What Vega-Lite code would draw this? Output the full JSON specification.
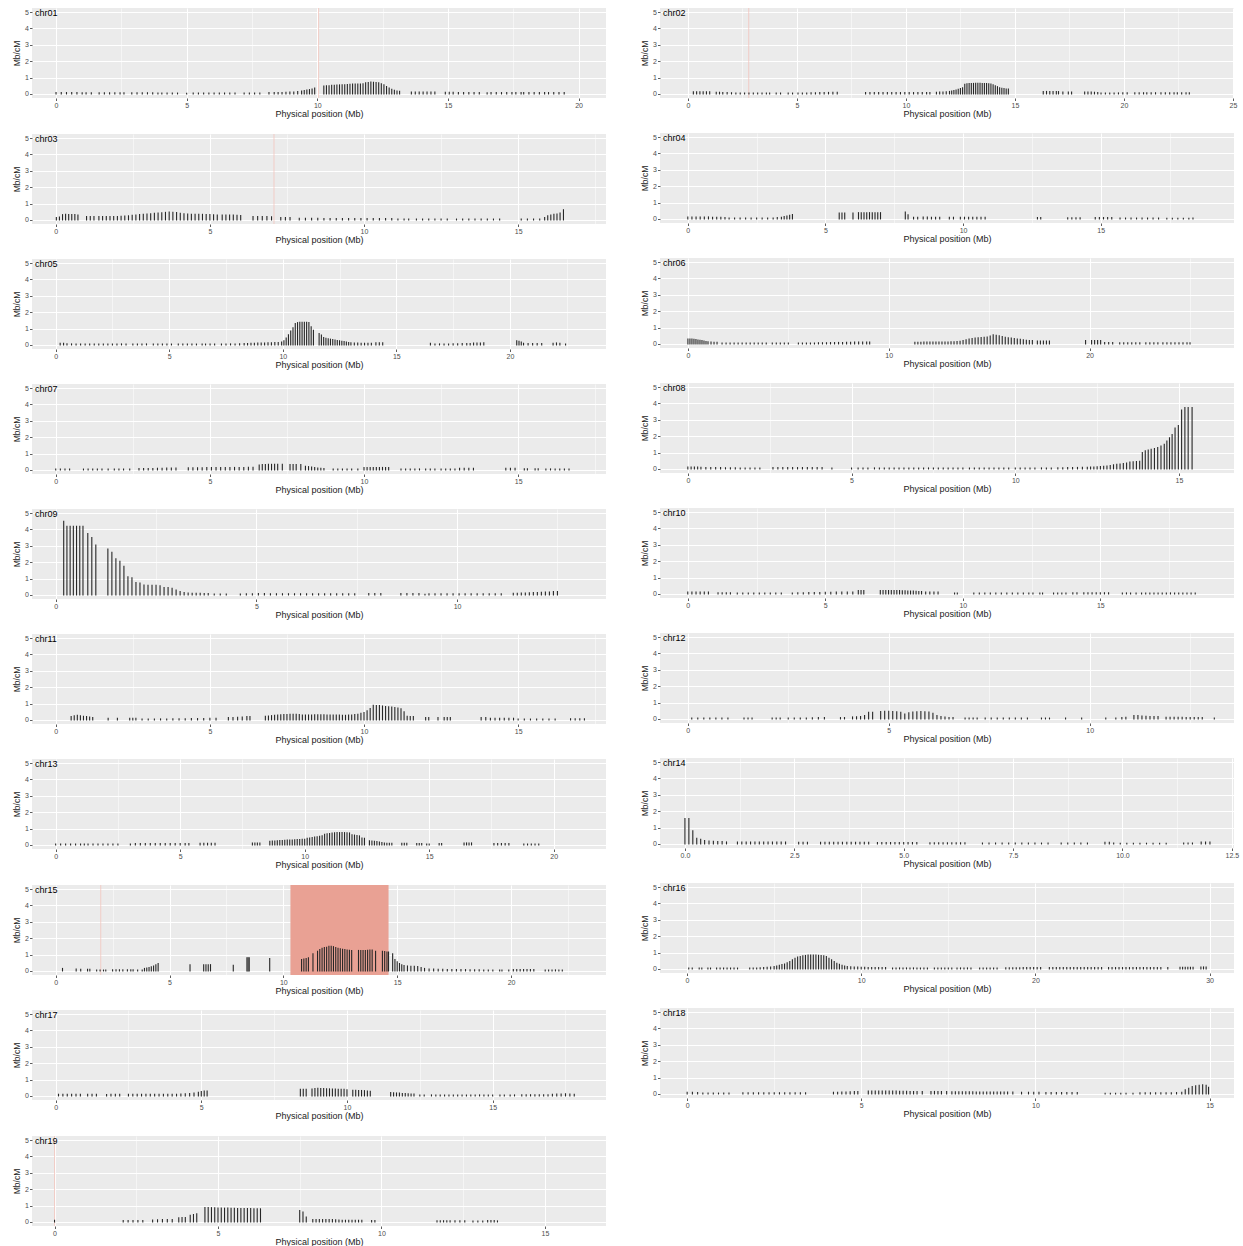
{
"$schema":"https://vega.github.io/schema/vega-lite/v6.json",
"background":"white",
"padding":{"left":12,"top":7,"right":2,"bottom":0},
"config":{"view":{"fill":"#EBEBEB","stroke":null},"font":"Liberation Sans",
"title":{"anchor":"start","frame":"group","offset":-10,"dx":3,"fontSize":9,"fontWeight":"normal","color":"#000000"},
"axis":{"domain":false,"labelOverlap":false,"labelFontSize":7,"labelColor":"#4D4D4D","labelPadding":1,"tickColor":"#333333","tickSize":2.5,"tickWidth":0.8,"gridColor":"#FFFFFF","titleFontSize":9,"titleFontWeight":"normal","titleColor":"#1a1a1a","titlePadding":1},
"axisY":{"titleFontSize":8.5,"titlePadding":3}},
"datasets":{
"c01":[{"p":0,"r":0.08},{"p":0.2,"r":0.08},{"p":0.4,"r":0.08},{"p":0.6,"r":0.08},{"p":0.8,"r":0.08},{"p":1.0,"r":0.07},{"p":1.15,"r":0.07},{"p":1.35,"r":0.07},{"p":1.65,"r":0.07},{"p":1.85,"r":0.07},{"p":2.05,"r":0.07},{"p":2.25,"r":0.07},{"p":2.45,"r":0.07},{"p":2.6,"r":0.07},{"p":2.9,"r":0.07},{"p":3.1,"r":0.07},{"p":3.3,"r":0.07},{"p":3.5,"r":0.07},{"p":3.7,"r":0.07},{"p":3.9,"r":0.06},{"p":4.05,"r":0.06},{"p":4.25,"r":0.05},{"p":4.45,"r":0.05},{"p":4.65,"r":0.05},{"p":5.0,"r":0.04},{"p":5.25,"r":0.05},{"p":5.45,"r":0.05},{"p":5.65,"r":0.05},{"p":5.85,"r":0.05},{"p":6.05,"r":0.05},{"p":6.25,"r":0.05},{"p":6.45,"r":0.05},{"p":6.65,"r":0.05},{"p":6.85,"r":0.05},{"p":7.2,"r":0.06},{"p":7.4,"r":0.06},{"p":7.6,"r":0.06},{"p":7.8,"r":0.06},{"p":8.15,"r":0.08},{"p":8.35,"r":0.08},{"p":8.5,"r":0.09},{"p":8.65,"r":0.09},{"p":8.8,"r":0.1},{"p":8.95,"r":0.11},{"p":9.1,"r":0.12},{"p":9.25,"r":0.14},{"p":9.4,"r":0.17},{"p":9.5,"r":0.2},{"p":9.6,"r":0.23},{"p":9.7,"r":0.26},{"p":9.8,"r":0.3},{"p":9.9,"r":0.36},{"p":10.25,"r":0.48},{"p":10.35,"r":0.5},{"p":10.45,"r":0.5},{"p":10.55,"r":0.52},{"p":10.65,"r":0.52},{"p":10.75,"r":0.54},{"p":10.85,"r":0.55},{"p":10.95,"r":0.55},{"p":11.05,"r":0.56},{"p":11.15,"r":0.57},{"p":11.25,"r":0.58},{"p":11.35,"r":0.6},{"p":11.45,"r":0.6},{"p":11.55,"r":0.6},{"p":11.65,"r":0.6},{"p":11.75,"r":0.62},{"p":11.85,"r":0.68},{"p":11.95,"r":0.7},{"p":12.05,"r":0.72},{"p":12.15,"r":0.71},{"p":12.25,"r":0.7},{"p":12.35,"r":0.68},{"p":12.45,"r":0.62},{"p":12.55,"r":0.55},{"p":12.65,"r":0.45},{"p":12.75,"r":0.36},{"p":12.85,"r":0.28},{"p":12.95,"r":0.22},{"p":13.05,"r":0.18},{"p":13.15,"r":0.16},{"p":13.6,"r":0.12},{"p":13.75,"r":0.12},{"p":13.9,"r":0.12},{"p":14.05,"r":0.12},{"p":14.2,"r":0.12},{"p":14.35,"r":0.12},{"p":14.5,"r":0.12},{"p":14.9,"r":0.1},{"p":15.05,"r":0.1},{"p":15.2,"r":0.1},{"p":15.4,"r":0.08},{"p":15.6,"r":0.08},{"p":15.8,"r":0.08},{"p":16.0,"r":0.08},{"p":16.2,"r":0.08},{"p":16.5,"r":0.07},{"p":16.65,"r":0.08},{"p":16.85,"r":0.08},{"p":17.05,"r":0.08},{"p":17.25,"r":0.08},{"p":17.45,"r":0.08},{"p":17.6,"r":0.08},{"p":17.8,"r":0.08},{"p":17.9,"r":0.08},{"p":18.1,"r":0.08},{"p":18.3,"r":0.08},{"p":18.5,"r":0.08},{"p":18.7,"r":0.08},{"p":18.85,"r":0.08},{"p":19.05,"r":0.08},{"p":19.25,"r":0.08},{"p":19.45,"r":0.08}],
"c02":[{"p":0.25,"r":0.13},{"p":0.4,"r":0.13},{"p":0.55,"r":0.13},{"p":0.7,"r":0.13},{"p":0.85,"r":0.13},{"p":1.0,"r":0.13},{"p":1.3,"r":0.1},{"p":1.45,"r":0.1},{"p":1.6,"r":0.09},{"p":1.8,"r":0.08},{"p":2.0,"r":0.07},{"p":2.2,"r":0.06},{"p":2.4,"r":0.06},{"p":2.6,"r":0.05},{"p":2.8,"r":0.05},{"p":3.0,"r":0.05},{"p":3.2,"r":0.05},{"p":3.4,"r":0.05},{"p":3.6,"r":0.05},{"p":3.75,"r":0.05},{"p":4.05,"r":0.05},{"p":4.25,"r":0.05},{"p":4.6,"r":0.05},{"p":4.8,"r":0.05},{"p":5.05,"r":0.06},{"p":5.25,"r":0.06},{"p":5.45,"r":0.06},{"p":5.65,"r":0.07},{"p":5.85,"r":0.07},{"p":6.05,"r":0.08},{"p":6.25,"r":0.08},{"p":6.45,"r":0.09},{"p":6.65,"r":0.1},{"p":6.85,"r":0.1},{"p":8.15,"r":0.08},{"p":8.35,"r":0.08},{"p":8.55,"r":0.08},{"p":8.75,"r":0.08},{"p":8.95,"r":0.08},{"p":9.15,"r":0.08},{"p":9.35,"r":0.08},{"p":9.55,"r":0.08},{"p":9.75,"r":0.08},{"p":9.95,"r":0.08},{"p":10.15,"r":0.08},{"p":10.35,"r":0.08},{"p":10.55,"r":0.08},{"p":10.75,"r":0.08},{"p":10.95,"r":0.08},{"p":11.1,"r":0.08},{"p":11.4,"r":0.1},{"p":11.55,"r":0.11},{"p":11.7,"r":0.12},{"p":11.85,"r":0.13},{"p":12.0,"r":0.15},{"p":12.1,"r":0.17},{"p":12.2,"r":0.2},{"p":12.3,"r":0.24},{"p":12.4,"r":0.28},{"p":12.5,"r":0.32},{"p":12.6,"r":0.38},{"p":12.7,"r":0.58},{"p":12.8,"r":0.62},{"p":12.9,"r":0.63},{"p":13.0,"r":0.64},{"p":13.1,"r":0.64},{"p":13.2,"r":0.65},{"p":13.3,"r":0.65},{"p":13.4,"r":0.65},{"p":13.5,"r":0.64},{"p":13.6,"r":0.64},{"p":13.7,"r":0.63},{"p":13.8,"r":0.62},{"p":13.9,"r":0.6},{"p":14.0,"r":0.56},{"p":14.1,"r":0.5},{"p":14.2,"r":0.44},{"p":14.3,"r":0.38},{"p":14.4,"r":0.34},{"p":14.5,"r":0.32},{"p":14.6,"r":0.3},{"p":14.7,"r":0.3},{"p":16.3,"r":0.15},{"p":16.45,"r":0.15},{"p":16.6,"r":0.15},{"p":16.75,"r":0.15},{"p":16.9,"r":0.15},{"p":17.0,"r":0.14},{"p":17.2,"r":0.12},{"p":17.45,"r":0.12},{"p":17.6,"r":0.12},{"p":18.2,"r":0.12},{"p":18.35,"r":0.12},{"p":18.5,"r":0.11},{"p":18.65,"r":0.1},{"p":18.8,"r":0.08},{"p":18.95,"r":0.06},{"p":19.15,"r":0.06},{"p":19.35,"r":0.06},{"p":19.55,"r":0.06},{"p":19.75,"r":0.06},{"p":19.95,"r":0.07},{"p":20.15,"r":0.07},{"p":20.5,"r":0.07},{"p":20.7,"r":0.07},{"p":20.9,"r":0.07},{"p":21.05,"r":0.07},{"p":21.25,"r":0.07},{"p":21.45,"r":0.07},{"p":21.7,"r":0.07},{"p":21.9,"r":0.07},{"p":22.1,"r":0.07},{"p":22.3,"r":0.07},{"p":22.45,"r":0.07},{"p":22.65,"r":0.07},{"p":22.85,"r":0.07},{"p":23.0,"r":0.07}],
"c03":[{"p":0.02,"r":0.15},{"p":0.12,"r":0.18},{"p":0.22,"r":0.32},{"p":0.32,"r":0.35},{"p":0.42,"r":0.33},{"p":0.52,"r":0.32},{"p":0.62,"r":0.32},{"p":0.72,"r":0.3},{"p":1.0,"r":0.2},{"p":1.12,"r":0.2},{"p":1.24,"r":0.2},{"p":1.4,"r":0.2},{"p":1.52,"r":0.2},{"p":1.64,"r":0.2},{"p":1.76,"r":0.2},{"p":1.88,"r":0.2},{"p":2.0,"r":0.21},{"p":2.12,"r":0.22},{"p":2.24,"r":0.23},{"p":2.36,"r":0.25},{"p":2.48,"r":0.28},{"p":2.6,"r":0.3},{"p":2.72,"r":0.32},{"p":2.84,"r":0.34},{"p":2.96,"r":0.36},{"p":3.08,"r":0.38},{"p":3.2,"r":0.4},{"p":3.32,"r":0.42},{"p":3.44,"r":0.44},{"p":3.56,"r":0.46},{"p":3.68,"r":0.48},{"p":3.8,"r":0.47},{"p":3.92,"r":0.45},{"p":4.04,"r":0.4},{"p":4.16,"r":0.38},{"p":4.28,"r":0.36},{"p":4.4,"r":0.35},{"p":4.52,"r":0.35},{"p":4.64,"r":0.34},{"p":4.76,"r":0.34},{"p":4.88,"r":0.33},{"p":5.0,"r":0.32},{"p":5.12,"r":0.31},{"p":5.24,"r":0.3},{"p":5.4,"r":0.3},{"p":5.52,"r":0.3},{"p":5.64,"r":0.3},{"p":5.76,"r":0.29},{"p":5.88,"r":0.28},{"p":6.0,"r":0.27},{"p":6.4,"r":0.2},{"p":6.55,"r":0.2},{"p":6.7,"r":0.2},{"p":6.85,"r":0.2},{"p":7.0,"r":0.19},{"p":7.3,"r":0.15},{"p":7.45,"r":0.15},{"p":7.6,"r":0.15},{"p":7.9,"r":0.1},{"p":8.1,"r":0.1},{"p":8.3,"r":0.1},{"p":8.5,"r":0.1},{"p":8.7,"r":0.09},{"p":8.9,"r":0.09},{"p":9.1,"r":0.08},{"p":9.3,"r":0.08},{"p":9.5,"r":0.08},{"p":9.7,"r":0.08},{"p":9.9,"r":0.08},{"p":10.1,"r":0.08},{"p":10.3,"r":0.08},{"p":10.5,"r":0.08},{"p":10.7,"r":0.08},{"p":10.9,"r":0.08},{"p":11.1,"r":0.06},{"p":11.3,"r":0.06},{"p":11.45,"r":0.06},{"p":11.7,"r":0.05},{"p":11.9,"r":0.05},{"p":12.1,"r":0.05},{"p":12.3,"r":0.05},{"p":12.5,"r":0.05},{"p":12.7,"r":0.05},{"p":13.0,"r":0.05},{"p":13.2,"r":0.05},{"p":13.4,"r":0.05},{"p":13.6,"r":0.05},{"p":13.8,"r":0.05},{"p":14.0,"r":0.05},{"p":14.2,"r":0.05},{"p":14.4,"r":0.05},{"p":15.1,"r":0.05},{"p":15.3,"r":0.05},{"p":15.5,"r":0.05},{"p":15.7,"r":0.06},{"p":15.86,"r":0.15},{"p":15.96,"r":0.25},{"p":16.06,"r":0.3},{"p":16.16,"r":0.35},{"p":16.26,"r":0.36},{"p":16.36,"r":0.42},{"p":16.47,"r":0.62}],
"c04":[{"p":0,"r":0.12},{"p":0.15,"r":0.12},{"p":0.3,"r":0.12},{"p":0.45,"r":0.12},{"p":0.6,"r":0.12},{"p":0.75,"r":0.12},{"p":0.9,"r":0.1},{"p":1.05,"r":0.1},{"p":1.2,"r":0.1},{"p":1.35,"r":0.08},{"p":1.5,"r":0.05},{"p":1.7,"r":0.05},{"p":1.9,"r":0.05},{"p":2.1,"r":0.05},{"p":2.3,"r":0.05},{"p":2.5,"r":0.05},{"p":2.7,"r":0.05},{"p":2.9,"r":0.05},{"p":3.1,"r":0.06},{"p":3.25,"r":0.08},{"p":3.4,"r":0.1},{"p":3.5,"r":0.14},{"p":3.6,"r":0.18},{"p":3.7,"r":0.22},{"p":3.8,"r":0.27},{"p":5.5,"r":0.36},{"p":5.6,"r":0.36},{"p":5.7,"r":0.36},{"p":6.0,"r":0.36},{"p":6.2,"r":0.38},{"p":6.3,"r":0.38},{"p":6.4,"r":0.38},{"p":6.5,"r":0.38},{"p":6.6,"r":0.38},{"p":6.7,"r":0.38},{"p":6.8,"r":0.38},{"p":6.9,"r":0.38},{"p":7.0,"r":0.38},{"p":7.9,"r":0.42},{"p":8.0,"r":0.25},{"p":8.2,"r":0.1},{"p":8.35,"r":0.1},{"p":8.55,"r":0.12},{"p":8.7,"r":0.12},{"p":8.85,"r":0.1},{"p":9.0,"r":0.1},{"p":9.15,"r":0.1},{"p":9.5,"r":0.1},{"p":9.65,"r":0.1},{"p":9.9,"r":0.1},{"p":10.05,"r":0.1},{"p":10.2,"r":0.1},{"p":10.35,"r":0.1},{"p":10.5,"r":0.1},{"p":10.65,"r":0.1},{"p":10.8,"r":0.1},{"p":12.7,"r":0.08},{"p":12.82,"r":0.08},{"p":13.8,"r":0.07},{"p":13.95,"r":0.07},{"p":14.1,"r":0.07},{"p":14.25,"r":0.07},{"p":14.8,"r":0.08},{"p":14.95,"r":0.08},{"p":15.1,"r":0.08},{"p":15.25,"r":0.08},{"p":15.4,"r":0.08},{"p":15.7,"r":0.05},{"p":15.9,"r":0.05},{"p":16.1,"r":0.05},{"p":16.3,"r":0.05},{"p":16.5,"r":0.05},{"p":16.7,"r":0.05},{"p":16.9,"r":0.05},{"p":17.1,"r":0.05},{"p":17.4,"r":0.04},{"p":17.6,"r":0.04},{"p":17.8,"r":0.04},{"p":18.0,"r":0.04},{"p":18.2,"r":0.04},{"p":18.35,"r":0.05}],
"c05":[{"p":0.2,"r":0.1},{"p":0.35,"r":0.1},{"p":0.5,"r":0.07},{"p":0.7,"r":0.06},{"p":0.9,"r":0.06},{"p":1.1,"r":0.06},{"p":1.3,"r":0.06},{"p":1.5,"r":0.06},{"p":1.7,"r":0.06},{"p":1.9,"r":0.06},{"p":2.1,"r":0.06},{"p":2.3,"r":0.06},{"p":2.5,"r":0.06},{"p":2.7,"r":0.06},{"p":2.9,"r":0.06},{"p":3.1,"r":0.06},{"p":3.4,"r":0.06},{"p":3.6,"r":0.06},{"p":3.8,"r":0.06},{"p":4.0,"r":0.06},{"p":4.3,"r":0.05},{"p":4.5,"r":0.05},{"p":4.7,"r":0.05},{"p":4.9,"r":0.05},{"p":5.1,"r":0.05},{"p":5.4,"r":0.05},{"p":5.6,"r":0.05},{"p":5.8,"r":0.05},{"p":6.0,"r":0.05},{"p":6.2,"r":0.05},{"p":6.45,"r":0.05},{"p":6.6,"r":0.05},{"p":6.8,"r":0.05},{"p":7.0,"r":0.05},{"p":7.3,"r":0.05},{"p":7.5,"r":0.05},{"p":7.7,"r":0.06},{"p":7.9,"r":0.06},{"p":8.1,"r":0.07},{"p":8.3,"r":0.08},{"p":8.45,"r":0.09},{"p":8.6,"r":0.1},{"p":8.75,"r":0.1},{"p":8.9,"r":0.11},{"p":9.05,"r":0.12},{"p":9.2,"r":0.12},{"p":9.35,"r":0.13},{"p":9.5,"r":0.13},{"p":9.65,"r":0.14},{"p":9.8,"r":0.15},{"p":9.95,"r":0.18},{"p":10.05,"r":0.25},{"p":10.15,"r":0.42},{"p":10.25,"r":0.62},{"p":10.35,"r":0.85},{"p":10.45,"r":1.05},{"p":10.55,"r":1.3},{"p":10.65,"r":1.36},{"p":10.75,"r":1.38},{"p":10.85,"r":1.38},{"p":10.95,"r":1.38},{"p":11.05,"r":1.38},{"p":11.15,"r":1.36},{"p":11.25,"r":1.1},{"p":11.35,"r":0.9},{"p":11.6,"r":0.7},{"p":11.7,"r":0.6},{"p":11.8,"r":0.45},{"p":11.9,"r":0.4},{"p":12.0,"r":0.38},{"p":12.1,"r":0.35},{"p":12.2,"r":0.33},{"p":12.3,"r":0.3},{"p":12.4,"r":0.27},{"p":12.5,"r":0.25},{"p":12.6,"r":0.22},{"p":12.7,"r":0.2},{"p":12.8,"r":0.17},{"p":12.9,"r":0.15},{"p":13.0,"r":0.13},{"p":13.15,"r":0.12},{"p":13.3,"r":0.12},{"p":13.45,"r":0.1},{"p":13.6,"r":0.1},{"p":13.75,"r":0.1},{"p":13.9,"r":0.1},{"p":14.1,"r":0.13},{"p":14.25,"r":0.13},{"p":14.4,"r":0.13},{"p":16.5,"r":0.1},{"p":16.7,"r":0.06},{"p":16.9,"r":0.06},{"p":17.1,"r":0.06},{"p":17.3,"r":0.06},{"p":17.5,"r":0.07},{"p":17.7,"r":0.07},{"p":17.9,"r":0.08},{"p":18.1,"r":0.08},{"p":18.25,"r":0.09},{"p":18.4,"r":0.12},{"p":18.55,"r":0.12},{"p":18.7,"r":0.12},{"p":18.85,"r":0.13},{"p":20.3,"r":0.25},{"p":20.4,"r":0.22},{"p":20.5,"r":0.18},{"p":20.6,"r":0.1},{"p":20.8,"r":0.08},{"p":21.0,"r":0.08},{"p":21.2,"r":0.08},{"p":21.4,"r":0.08},{"p":21.9,"r":0.1},{"p":22.05,"r":0.12},{"p":22.2,"r":0.1},{"p":22.45,"r":0.06}],
"c06":[{"p":0,"r":0.3},{"p":0.1,"r":0.3},{"p":0.2,"r":0.3},{"p":0.3,"r":0.28},{"p":0.4,"r":0.26},{"p":0.5,"r":0.24},{"p":0.6,"r":0.22},{"p":0.7,"r":0.2},{"p":0.8,"r":0.17},{"p":0.9,"r":0.15},{"p":1.0,"r":0.13},{"p":1.15,"r":0.11},{"p":1.3,"r":0.1},{"p":1.45,"r":0.1},{"p":1.7,"r":0.06},{"p":1.9,"r":0.06},{"p":2.1,"r":0.06},{"p":2.3,"r":0.06},{"p":2.5,"r":0.06},{"p":2.7,"r":0.06},{"p":2.9,"r":0.06},{"p":3.1,"r":0.06},{"p":3.3,"r":0.06},{"p":3.5,"r":0.06},{"p":3.7,"r":0.06},{"p":3.9,"r":0.06},{"p":4.2,"r":0.06},{"p":4.4,"r":0.06},{"p":4.6,"r":0.06},{"p":4.8,"r":0.06},{"p":5.0,"r":0.06},{"p":5.5,"r":0.06},{"p":5.7,"r":0.06},{"p":5.9,"r":0.06},{"p":6.1,"r":0.06},{"p":6.3,"r":0.06},{"p":6.5,"r":0.07},{"p":6.7,"r":0.07},{"p":6.9,"r":0.07},{"p":7.1,"r":0.08},{"p":7.3,"r":0.08},{"p":7.5,"r":0.09},{"p":7.7,"r":0.09},{"p":7.9,"r":0.1},{"p":8.1,"r":0.1},{"p":8.3,"r":0.11},{"p":8.5,"r":0.12},{"p":8.7,"r":0.12},{"p":8.9,"r":0.12},{"p":9.05,"r":0.12},{"p":11.3,"r":0.1},{"p":11.45,"r":0.1},{"p":11.6,"r":0.1},{"p":11.75,"r":0.11},{"p":11.9,"r":0.11},{"p":12.05,"r":0.11},{"p":12.2,"r":0.11},{"p":12.35,"r":0.12},{"p":12.5,"r":0.12},{"p":12.65,"r":0.12},{"p":12.8,"r":0.12},{"p":12.95,"r":0.12},{"p":13.1,"r":0.13},{"p":13.25,"r":0.13},{"p":13.4,"r":0.14},{"p":13.55,"r":0.16},{"p":13.7,"r":0.2},{"p":13.85,"r":0.25},{"p":14.0,"r":0.3},{"p":14.15,"r":0.33},{"p":14.3,"r":0.36},{"p":14.45,"r":0.38},{"p":14.6,"r":0.39},{"p":14.75,"r":0.4},{"p":14.9,"r":0.42},{"p":15.05,"r":0.48},{"p":15.2,"r":0.55},{"p":15.35,"r":0.52},{"p":15.5,"r":0.5},{"p":15.65,"r":0.45},{"p":15.8,"r":0.4},{"p":15.95,"r":0.38},{"p":16.1,"r":0.36},{"p":16.25,"r":0.33},{"p":16.4,"r":0.3},{"p":16.55,"r":0.28},{"p":16.7,"r":0.25},{"p":16.85,"r":0.22},{"p":17.0,"r":0.2},{"p":17.15,"r":0.2},{"p":17.4,"r":0.18},{"p":17.55,"r":0.18},{"p":17.7,"r":0.18},{"p":17.85,"r":0.18},{"p":18.0,"r":0.18},{"p":19.8,"r":0.2},{"p":20.1,"r":0.2},{"p":20.25,"r":0.2},{"p":20.4,"r":0.2},{"p":20.55,"r":0.2},{"p":20.75,"r":0.08},{"p":20.95,"r":0.08},{"p":21.15,"r":0.08},{"p":21.5,"r":0.07},{"p":21.7,"r":0.07},{"p":21.9,"r":0.07},{"p":22.1,"r":0.07},{"p":22.3,"r":0.07},{"p":22.5,"r":0.07},{"p":22.8,"r":0.07},{"p":23.0,"r":0.07},{"p":23.2,"r":0.07},{"p":23.4,"r":0.07},{"p":23.65,"r":0.07},{"p":23.85,"r":0.07},{"p":24.05,"r":0.07},{"p":24.25,"r":0.07},{"p":24.45,"r":0.07},{"p":24.65,"r":0.07},{"p":24.85,"r":0.07},{"p":25.0,"r":0.07}],
"c07":[{"p":0,"r":0.05},{"p":0.15,"r":0.05},{"p":0.3,"r":0.05},{"p":0.45,"r":0.05},{"p":0.9,"r":0.05},{"p":1.05,"r":0.05},{"p":1.2,"r":0.05},{"p":1.35,"r":0.05},{"p":1.5,"r":0.05},{"p":1.7,"r":0.05},{"p":1.9,"r":0.05},{"p":2.05,"r":0.05},{"p":2.2,"r":0.05},{"p":2.4,"r":0.05},{"p":2.7,"r":0.08},{"p":2.85,"r":0.08},{"p":3.0,"r":0.09},{"p":3.15,"r":0.09},{"p":3.3,"r":0.1},{"p":3.45,"r":0.1},{"p":3.6,"r":0.12},{"p":3.75,"r":0.12},{"p":3.9,"r":0.12},{"p":4.3,"r":0.13},{"p":4.45,"r":0.13},{"p":4.6,"r":0.13},{"p":4.75,"r":0.13},{"p":4.9,"r":0.14},{"p":5.05,"r":0.14},{"p":5.2,"r":0.14},{"p":5.35,"r":0.14},{"p":5.5,"r":0.14},{"p":5.65,"r":0.14},{"p":5.8,"r":0.15},{"p":5.95,"r":0.15},{"p":6.1,"r":0.15},{"p":6.25,"r":0.16},{"p":6.4,"r":0.16},{"p":6.6,"r":0.3},{"p":6.7,"r":0.32},{"p":6.8,"r":0.33},{"p":6.9,"r":0.34},{"p":7.0,"r":0.34},{"p":7.1,"r":0.35},{"p":7.2,"r":0.34},{"p":7.35,"r":0.34},{"p":7.6,"r":0.33},{"p":7.7,"r":0.33},{"p":7.8,"r":0.33},{"p":7.95,"r":0.32},{"p":8.1,"r":0.22},{"p":8.2,"r":0.2},{"p":8.3,"r":0.18},{"p":8.4,"r":0.15},{"p":8.5,"r":0.12},{"p":8.6,"r":0.1},{"p":8.7,"r":0.08},{"p":9.0,"r":0.05},{"p":9.15,"r":0.05},{"p":9.3,"r":0.05},{"p":9.45,"r":0.05},{"p":9.6,"r":0.05},{"p":9.8,"r":0.05},{"p":10.0,"r":0.15},{"p":10.1,"r":0.15},{"p":10.2,"r":0.15},{"p":10.3,"r":0.15},{"p":10.4,"r":0.15},{"p":10.5,"r":0.15},{"p":10.6,"r":0.15},{"p":10.7,"r":0.15},{"p":10.8,"r":0.15},{"p":11.2,"r":0.06},{"p":11.35,"r":0.06},{"p":11.5,"r":0.06},{"p":11.65,"r":0.06},{"p":11.8,"r":0.06},{"p":12.0,"r":0.06},{"p":12.15,"r":0.06},{"p":12.3,"r":0.06},{"p":12.5,"r":0.06},{"p":12.65,"r":0.06},{"p":12.8,"r":0.06},{"p":12.95,"r":0.06},{"p":13.1,"r":0.1},{"p":13.25,"r":0.1},{"p":13.4,"r":0.1},{"p":13.55,"r":0.1},{"p":14.6,"r":0.1},{"p":14.75,"r":0.1},{"p":14.9,"r":0.1},{"p":15.2,"r":0.07},{"p":15.3,"r":0.07},{"p":15.55,"r":0.07},{"p":15.65,"r":0.07},{"p":15.9,"r":0.06},{"p":16.05,"r":0.06},{"p":16.2,"r":0.06},{"p":16.35,"r":0.06},{"p":16.5,"r":0.06},{"p":16.65,"r":0.06}],
"c08":[{"p":0,"r":0.12},{"p":0.1,"r":0.12},{"p":0.2,"r":0.12},{"p":0.3,"r":0.11},{"p":0.4,"r":0.1},{"p":0.55,"r":0.09},{"p":0.7,"r":0.08},{"p":0.85,"r":0.08},{"p":1.0,"r":0.08},{"p":1.15,"r":0.07},{"p":1.3,"r":0.07},{"p":1.45,"r":0.07},{"p":1.6,"r":0.06},{"p":1.75,"r":0.06},{"p":1.9,"r":0.06},{"p":2.05,"r":0.05},{"p":2.2,"r":0.05},{"p":2.6,"r":0.08},{"p":2.75,"r":0.08},{"p":2.9,"r":0.08},{"p":3.05,"r":0.08},{"p":3.2,"r":0.08},{"p":3.35,"r":0.08},{"p":3.5,"r":0.08},{"p":3.65,"r":0.08},{"p":3.8,"r":0.08},{"p":3.95,"r":0.08},{"p":4.1,"r":0.08},{"p":4.4,"r":0.06},{"p":5.0,"r":0.05},{"p":5.2,"r":0.06},{"p":5.35,"r":0.06},{"p":5.5,"r":0.06},{"p":5.7,"r":0.06},{"p":5.85,"r":0.06},{"p":6.0,"r":0.06},{"p":6.15,"r":0.06},{"p":6.3,"r":0.06},{"p":6.45,"r":0.06},{"p":6.6,"r":0.06},{"p":6.75,"r":0.06},{"p":6.9,"r":0.06},{"p":7.05,"r":0.06},{"p":7.2,"r":0.06},{"p":7.35,"r":0.06},{"p":7.5,"r":0.06},{"p":7.65,"r":0.06},{"p":7.8,"r":0.06},{"p":7.95,"r":0.06},{"p":8.1,"r":0.06},{"p":8.25,"r":0.06},{"p":8.4,"r":0.06},{"p":8.6,"r":0.06},{"p":8.75,"r":0.06},{"p":8.9,"r":0.06},{"p":9.05,"r":0.06},{"p":9.2,"r":0.06},{"p":9.35,"r":0.06},{"p":9.5,"r":0.06},{"p":9.65,"r":0.06},{"p":9.8,"r":0.06},{"p":10.0,"r":0.05},{"p":10.15,"r":0.05},{"p":10.3,"r":0.05},{"p":10.45,"r":0.05},{"p":10.6,"r":0.05},{"p":10.8,"r":0.06},{"p":10.95,"r":0.06},{"p":11.1,"r":0.06},{"p":11.3,"r":0.07},{"p":11.45,"r":0.07},{"p":11.6,"r":0.08},{"p":11.75,"r":0.08},{"p":11.9,"r":0.09},{"p":12.05,"r":0.1},{"p":12.2,"r":0.1},{"p":12.3,"r":0.11},{"p":12.4,"r":0.12},{"p":12.5,"r":0.13},{"p":12.6,"r":0.14},{"p":12.7,"r":0.16},{"p":12.8,"r":0.18},{"p":12.9,"r":0.2},{"p":13.0,"r":0.25},{"p":13.1,"r":0.28},{"p":13.2,"r":0.3},{"p":13.3,"r":0.33},{"p":13.4,"r":0.36},{"p":13.5,"r":0.42},{"p":13.6,"r":0.44},{"p":13.7,"r":0.45},{"p":13.8,"r":0.46},{"p":13.88,"r":1.0},{"p":13.97,"r":1.1},{"p":14.06,"r":1.15},{"p":14.15,"r":1.2},{"p":14.25,"r":1.25},{"p":14.35,"r":1.3},{"p":14.45,"r":1.4},{"p":14.55,"r":1.5},{"p":14.63,"r":1.7},{"p":14.71,"r":1.9},{"p":14.79,"r":2.1},{"p":14.88,"r":2.5},{"p":14.98,"r":2.65},{"p":15.08,"r":3.6},{"p":15.18,"r":3.75},{"p":15.28,"r":3.75},{"p":15.4,"r":3.75}],
"c09":[{"p":0.2,"r":4.5},{"p":0.28,"r":4.2},{"p":0.36,"r":4.2},{"p":0.44,"r":4.2},{"p":0.52,"r":4.2},{"p":0.6,"r":4.2},{"p":0.68,"r":4.2},{"p":0.8,"r":3.75},{"p":0.9,"r":3.5},{"p":1.0,"r":3.05},{"p":1.3,"r":2.8},{"p":1.4,"r":2.6},{"p":1.5,"r":2.2},{"p":1.6,"r":2.05},{"p":1.7,"r":1.75},{"p":1.8,"r":1.1},{"p":1.9,"r":1.05},{"p":2.0,"r":0.75},{"p":2.1,"r":0.72},{"p":2.2,"r":0.6},{"p":2.3,"r":0.58},{"p":2.4,"r":0.58},{"p":2.5,"r":0.58},{"p":2.6,"r":0.56},{"p":2.7,"r":0.45},{"p":2.8,"r":0.45},{"p":2.9,"r":0.4},{"p":3.0,"r":0.3},{"p":3.1,"r":0.2},{"p":3.2,"r":0.15},{"p":3.3,"r":0.12},{"p":3.4,"r":0.1},{"p":3.5,"r":0.1},{"p":3.6,"r":0.1},{"p":3.7,"r":0.09},{"p":3.8,"r":0.08},{"p":3.95,"r":0.06},{"p":4.1,"r":0.06},{"p":4.25,"r":0.06},{"p":4.6,"r":0.06},{"p":4.75,"r":0.07},{"p":4.9,"r":0.07},{"p":5.05,"r":0.08},{"p":5.2,"r":0.08},{"p":5.35,"r":0.07},{"p":5.5,"r":0.07},{"p":5.65,"r":0.07},{"p":5.8,"r":0.07},{"p":5.95,"r":0.07},{"p":6.1,"r":0.07},{"p":6.25,"r":0.07},{"p":6.4,"r":0.07},{"p":6.55,"r":0.07},{"p":6.7,"r":0.07},{"p":6.85,"r":0.07},{"p":7.0,"r":0.07},{"p":7.15,"r":0.07},{"p":7.3,"r":0.07},{"p":7.45,"r":0.07},{"p":7.8,"r":0.08},{"p":7.95,"r":0.08},{"p":8.1,"r":0.08},{"p":8.6,"r":0.08},{"p":8.75,"r":0.08},{"p":8.9,"r":0.08},{"p":9.05,"r":0.08},{"p":9.2,"r":0.03},{"p":9.3,"r":0.07},{"p":9.45,"r":0.07},{"p":9.6,"r":0.07},{"p":9.75,"r":0.07},{"p":9.9,"r":0.07},{"p":10.05,"r":0.07},{"p":10.2,"r":0.07},{"p":10.35,"r":0.07},{"p":10.5,"r":0.07},{"p":10.65,"r":0.07},{"p":10.8,"r":0.07},{"p":10.95,"r":0.07},{"p":11.1,"r":0.07},{"p":11.4,"r":0.1},{"p":11.5,"r":0.1},{"p":11.6,"r":0.11},{"p":11.7,"r":0.12},{"p":11.8,"r":0.13},{"p":11.9,"r":0.14},{"p":12.0,"r":0.15},{"p":12.1,"r":0.16},{"p":12.2,"r":0.17},{"p":12.3,"r":0.18},{"p":12.4,"r":0.2},{"p":12.5,"r":0.2}],
"c10":[{"p":0,"r":0.12},{"p":0.15,"r":0.12},{"p":0.3,"r":0.12},{"p":0.45,"r":0.12},{"p":0.6,"r":0.12},{"p":0.75,"r":0.12},{"p":1.1,"r":0.07},{"p":1.25,"r":0.07},{"p":1.4,"r":0.07},{"p":1.55,"r":0.07},{"p":1.8,"r":0.05},{"p":2.0,"r":0.05},{"p":2.2,"r":0.05},{"p":2.4,"r":0.05},{"p":2.6,"r":0.05},{"p":2.8,"r":0.05},{"p":3.0,"r":0.05},{"p":3.2,"r":0.05},{"p":3.4,"r":0.05},{"p":3.8,"r":0.06},{"p":4.0,"r":0.07},{"p":4.2,"r":0.07},{"p":4.4,"r":0.08},{"p":4.6,"r":0.08},{"p":4.8,"r":0.09},{"p":5.0,"r":0.1},{"p":5.2,"r":0.1},{"p":5.4,"r":0.11},{"p":5.6,"r":0.11},{"p":5.8,"r":0.12},{"p":6.0,"r":0.12},{"p":6.2,"r":0.2},{"p":6.3,"r":0.2},{"p":6.4,"r":0.2},{"p":7.0,"r":0.2},{"p":7.1,"r":0.2},{"p":7.2,"r":0.2},{"p":7.3,"r":0.21},{"p":7.4,"r":0.21},{"p":7.5,"r":0.2},{"p":7.6,"r":0.2},{"p":7.7,"r":0.2},{"p":7.8,"r":0.19},{"p":7.9,"r":0.19},{"p":8.0,"r":0.18},{"p":8.1,"r":0.18},{"p":8.2,"r":0.17},{"p":8.3,"r":0.16},{"p":8.4,"r":0.15},{"p":8.5,"r":0.14},{"p":8.65,"r":0.12},{"p":8.8,"r":0.12},{"p":8.95,"r":0.12},{"p":9.1,"r":0.12},{"p":9.7,"r":0.06},{"p":9.8,"r":0.06},{"p":10.4,"r":0.06},{"p":10.6,"r":0.06},{"p":10.8,"r":0.06},{"p":11.0,"r":0.06},{"p":11.2,"r":0.06},{"p":11.4,"r":0.06},{"p":11.6,"r":0.06},{"p":11.8,"r":0.06},{"p":12.0,"r":0.06},{"p":12.2,"r":0.06},{"p":12.4,"r":0.06},{"p":12.55,"r":0.06},{"p":12.8,"r":0.06},{"p":12.9,"r":0.06},{"p":13.3,"r":0.06},{"p":13.45,"r":0.06},{"p":13.6,"r":0.06},{"p":13.75,"r":0.06},{"p":14.0,"r":0.07},{"p":14.15,"r":0.07},{"p":14.4,"r":0.07},{"p":14.55,"r":0.07},{"p":14.7,"r":0.07},{"p":14.85,"r":0.07},{"p":15.0,"r":0.07},{"p":15.15,"r":0.07},{"p":15.3,"r":0.07},{"p":15.8,"r":0.06},{"p":15.95,"r":0.06},{"p":16.1,"r":0.06},{"p":16.3,"r":0.06},{"p":16.5,"r":0.06},{"p":16.65,"r":0.06},{"p":16.8,"r":0.06},{"p":16.95,"r":0.06},{"p":17.1,"r":0.06},{"p":17.25,"r":0.06},{"p":17.4,"r":0.06},{"p":17.55,"r":0.06},{"p":17.7,"r":0.06},{"p":17.85,"r":0.06},{"p":18.0,"r":0.06},{"p":18.15,"r":0.06},{"p":18.3,"r":0.06},{"p":18.45,"r":0.06}],
"c11":[{"p":0.5,"r":0.2},{"p":0.6,"r":0.25},{"p":0.7,"r":0.28},{"p":0.8,"r":0.25},{"p":0.9,"r":0.22},{"p":1.0,"r":0.2},{"p":1.1,"r":0.18},{"p":1.2,"r":0.15},{"p":1.7,"r":0.1},{"p":2.0,"r":0.1},{"p":2.4,"r":0.1},{"p":2.5,"r":0.1},{"p":2.6,"r":0.1},{"p":2.8,"r":0.06},{"p":3.0,"r":0.06},{"p":3.2,"r":0.06},{"p":3.4,"r":0.06},{"p":3.6,"r":0.06},{"p":3.8,"r":0.07},{"p":4.0,"r":0.07},{"p":4.2,"r":0.07},{"p":4.4,"r":0.08},{"p":4.6,"r":0.08},{"p":4.8,"r":0.09},{"p":5.0,"r":0.1},{"p":5.2,"r":0.1},{"p":5.6,"r":0.15},{"p":5.75,"r":0.15},{"p":5.9,"r":0.16},{"p":6.05,"r":0.18},{"p":6.2,"r":0.2},{"p":6.3,"r":0.2},{"p":6.8,"r":0.22},{"p":6.9,"r":0.24},{"p":7.0,"r":0.26},{"p":7.1,"r":0.28},{"p":7.2,"r":0.3},{"p":7.3,"r":0.31},{"p":7.4,"r":0.32},{"p":7.5,"r":0.33},{"p":7.6,"r":0.34},{"p":7.7,"r":0.35},{"p":7.8,"r":0.34},{"p":7.9,"r":0.32},{"p":8.0,"r":0.3},{"p":8.1,"r":0.3},{"p":8.2,"r":0.3},{"p":8.3,"r":0.3},{"p":8.4,"r":0.31},{"p":8.5,"r":0.31},{"p":8.6,"r":0.31},{"p":8.7,"r":0.31},{"p":8.8,"r":0.3},{"p":8.9,"r":0.3},{"p":9.0,"r":0.3},{"p":9.1,"r":0.3},{"p":9.2,"r":0.29},{"p":9.3,"r":0.28},{"p":9.4,"r":0.28},{"p":9.5,"r":0.29},{"p":9.6,"r":0.3},{"p":9.7,"r":0.32},{"p":9.8,"r":0.35},{"p":9.9,"r":0.4},{"p":10.0,"r":0.45},{"p":10.1,"r":0.55},{"p":10.2,"r":0.7},{"p":10.3,"r":0.9},{"p":10.4,"r":0.88},{"p":10.5,"r":0.87},{"p":10.6,"r":0.85},{"p":10.7,"r":0.82},{"p":10.8,"r":0.8},{"p":10.9,"r":0.78},{"p":11.0,"r":0.75},{"p":11.1,"r":0.72},{"p":11.2,"r":0.68},{"p":11.3,"r":0.5},{"p":11.4,"r":0.22},{"p":11.5,"r":0.2},{"p":11.6,"r":0.2},{"p":12.0,"r":0.15},{"p":12.1,"r":0.15},{"p":12.4,"r":0.15},{"p":12.6,"r":0.15},{"p":12.7,"r":0.15},{"p":12.8,"r":0.15},{"p":13.8,"r":0.15},{"p":13.95,"r":0.15},{"p":14.1,"r":0.1},{"p":14.25,"r":0.1},{"p":14.4,"r":0.1},{"p":14.55,"r":0.1},{"p":14.7,"r":0.1},{"p":14.85,"r":0.1},{"p":15.0,"r":0.05},{"p":15.2,"r":0.05},{"p":15.4,"r":0.05},{"p":15.6,"r":0.05},{"p":15.8,"r":0.05},{"p":16.0,"r":0.05},{"p":16.2,"r":0.05},{"p":16.7,"r":0.07},{"p":16.85,"r":0.07},{"p":17.0,"r":0.07},{"p":17.15,"r":0.07}],
"c12":[{"p":0.1,"r":0.05},{"p":0.25,"r":0.05},{"p":0.4,"r":0.05},{"p":0.55,"r":0.05},{"p":0.7,"r":0.05},{"p":0.85,"r":0.05},{"p":1.0,"r":0.05},{"p":1.4,"r":0.05},{"p":1.5,"r":0.05},{"p":1.6,"r":0.05},{"p":2.1,"r":0.05},{"p":2.2,"r":0.05},{"p":2.3,"r":0.05},{"p":2.5,"r":0.05},{"p":2.65,"r":0.05},{"p":2.8,"r":0.06},{"p":2.95,"r":0.06},{"p":3.1,"r":0.07},{"p":3.25,"r":0.08},{"p":3.4,"r":0.08},{"p":3.8,"r":0.08},{"p":3.9,"r":0.08},{"p":4.1,"r":0.12},{"p":4.2,"r":0.13},{"p":4.3,"r":0.15},{"p":4.4,"r":0.2},{"p":4.5,"r":0.4},{"p":4.6,"r":0.4},{"p":4.8,"r":0.45},{"p":4.9,"r":0.46},{"p":5.0,"r":0.46},{"p":5.1,"r":0.45},{"p":5.2,"r":0.44},{"p":5.3,"r":0.4},{"p":5.4,"r":0.3},{"p":5.5,"r":0.38},{"p":5.6,"r":0.42},{"p":5.7,"r":0.44},{"p":5.8,"r":0.45},{"p":5.9,"r":0.44},{"p":6.0,"r":0.42},{"p":6.1,"r":0.35},{"p":6.2,"r":0.2},{"p":6.3,"r":0.15},{"p":6.4,"r":0.12},{"p":6.5,"r":0.08},{"p":6.6,"r":0.08},{"p":6.9,"r":0.06},{"p":7.0,"r":0.06},{"p":7.1,"r":0.06},{"p":7.2,"r":0.06},{"p":7.4,"r":0.06},{"p":7.55,"r":0.06},{"p":7.7,"r":0.06},{"p":7.85,"r":0.06},{"p":8.0,"r":0.06},{"p":8.15,"r":0.06},{"p":8.3,"r":0.06},{"p":8.45,"r":0.06},{"p":8.8,"r":0.05},{"p":8.9,"r":0.05},{"p":9.0,"r":0.05},{"p":9.4,"r":0.05},{"p":9.8,"r":0.05},{"p":10.4,"r":0.05},{"p":10.65,"r":0.06},{"p":10.8,"r":0.08},{"p":10.9,"r":0.1},{"p":11.1,"r":0.2},{"p":11.2,"r":0.2},{"p":11.3,"r":0.18},{"p":11.4,"r":0.16},{"p":11.5,"r":0.15},{"p":11.6,"r":0.15},{"p":11.7,"r":0.14},{"p":11.9,"r":0.1},{"p":12.0,"r":0.1},{"p":12.1,"r":0.1},{"p":12.2,"r":0.1},{"p":12.3,"r":0.1},{"p":12.4,"r":0.08},{"p":12.5,"r":0.08},{"p":12.6,"r":0.08},{"p":12.7,"r":0.08},{"p":12.8,"r":0.08},{"p":13.1,"r":0.05}],
"c13":[{"p":0,"r":0.05},{"p":0.2,"r":0.05},{"p":0.4,"r":0.05},{"p":0.6,"r":0.05},{"p":0.8,"r":0.05},{"p":1.0,"r":0.05},{"p":1.15,"r":0.05},{"p":1.3,"r":0.05},{"p":1.5,"r":0.05},{"p":1.7,"r":0.05},{"p":1.9,"r":0.05},{"p":2.1,"r":0.05},{"p":2.3,"r":0.05},{"p":2.5,"r":0.05},{"p":3.0,"r":0.06},{"p":3.2,"r":0.08},{"p":3.4,"r":0.08},{"p":3.6,"r":0.08},{"p":3.8,"r":0.08},{"p":4.0,"r":0.08},{"p":4.2,"r":0.08},{"p":4.4,"r":0.08},{"p":4.6,"r":0.08},{"p":4.8,"r":0.08},{"p":5.0,"r":0.08},{"p":5.2,"r":0.08},{"p":5.35,"r":0.08},{"p":5.8,"r":0.1},{"p":5.95,"r":0.1},{"p":6.1,"r":0.1},{"p":6.25,"r":0.1},{"p":6.4,"r":0.1},{"p":7.9,"r":0.12},{"p":8.0,"r":0.12},{"p":8.1,"r":0.12},{"p":8.2,"r":0.12},{"p":8.6,"r":0.22},{"p":8.7,"r":0.23},{"p":8.8,"r":0.24},{"p":8.9,"r":0.25},{"p":9.0,"r":0.26},{"p":9.1,"r":0.27},{"p":9.2,"r":0.28},{"p":9.3,"r":0.29},{"p":9.4,"r":0.3},{"p":9.5,"r":0.3},{"p":9.6,"r":0.31},{"p":9.7,"r":0.32},{"p":9.8,"r":0.33},{"p":9.9,"r":0.34},{"p":10.0,"r":0.35},{"p":10.1,"r":0.4},{"p":10.2,"r":0.42},{"p":10.3,"r":0.45},{"p":10.4,"r":0.48},{"p":10.5,"r":0.5},{"p":10.6,"r":0.52},{"p":10.7,"r":0.55},{"p":10.8,"r":0.65},{"p":10.9,"r":0.68},{"p":11.0,"r":0.7},{"p":11.1,"r":0.72},{"p":11.2,"r":0.74},{"p":11.3,"r":0.75},{"p":11.4,"r":0.75},{"p":11.5,"r":0.75},{"p":11.6,"r":0.75},{"p":11.7,"r":0.74},{"p":11.8,"r":0.73},{"p":11.9,"r":0.62},{"p":12.0,"r":0.6},{"p":12.1,"r":0.57},{"p":12.2,"r":0.55},{"p":12.3,"r":0.42},{"p":12.4,"r":0.4},{"p":12.6,"r":0.25},{"p":12.7,"r":0.24},{"p":12.8,"r":0.22},{"p":12.9,"r":0.2},{"p":13.0,"r":0.18},{"p":13.1,"r":0.15},{"p":13.2,"r":0.12},{"p":13.3,"r":0.1},{"p":13.4,"r":0.1},{"p":13.5,"r":0.1},{"p":13.9,"r":0.1},{"p":14.0,"r":0.1},{"p":14.1,"r":0.1},{"p":14.5,"r":0.08},{"p":14.6,"r":0.08},{"p":14.7,"r":0.08},{"p":14.9,"r":0.06},{"p":15.0,"r":0.06},{"p":15.4,"r":0.08},{"p":15.5,"r":0.08},{"p":16.4,"r":0.12},{"p":16.5,"r":0.12},{"p":16.6,"r":0.12},{"p":16.7,"r":0.12},{"p":17.6,"r":0.08},{"p":17.75,"r":0.08},{"p":17.9,"r":0.08},{"p":18.05,"r":0.08},{"p":18.2,"r":0.08},{"p":18.8,"r":0.06},{"p":18.95,"r":0.06},{"p":19.1,"r":0.06},{"p":19.25,"r":0.06},{"p":19.4,"r":0.06}],
"c14":[{"p":0,"r":1.55},{"p":0.09,"r":1.55},{"p":0.18,"r":0.8},{"p":0.27,"r":0.35},{"p":0.36,"r":0.28},{"p":0.45,"r":0.2},{"p":0.55,"r":0.18},{"p":0.65,"r":0.16},{"p":0.75,"r":0.15},{"p":0.85,"r":0.14},{"p":0.95,"r":0.12},{"p":1.2,"r":0.12},{"p":1.3,"r":0.12},{"p":1.4,"r":0.12},{"p":1.5,"r":0.12},{"p":1.6,"r":0.12},{"p":1.7,"r":0.12},{"p":1.8,"r":0.12},{"p":1.9,"r":0.12},{"p":2.0,"r":0.12},{"p":2.1,"r":0.12},{"p":2.2,"r":0.12},{"p":2.3,"r":0.12},{"p":2.6,"r":0.1},{"p":2.7,"r":0.1},{"p":2.8,"r":0.1},{"p":3.1,"r":0.1},{"p":3.2,"r":0.1},{"p":3.3,"r":0.1},{"p":3.4,"r":0.1},{"p":3.5,"r":0.1},{"p":3.6,"r":0.1},{"p":3.7,"r":0.1},{"p":3.8,"r":0.1},{"p":3.9,"r":0.1},{"p":4.0,"r":0.1},{"p":4.1,"r":0.1},{"p":4.2,"r":0.1},{"p":4.4,"r":0.08},{"p":4.5,"r":0.08},{"p":4.6,"r":0.08},{"p":4.7,"r":0.08},{"p":4.8,"r":0.08},{"p":4.9,"r":0.08},{"p":5.0,"r":0.08},{"p":5.1,"r":0.08},{"p":5.2,"r":0.08},{"p":5.3,"r":0.08},{"p":5.6,"r":0.07},{"p":5.7,"r":0.07},{"p":5.8,"r":0.07},{"p":5.9,"r":0.07},{"p":6.0,"r":0.07},{"p":6.1,"r":0.07},{"p":6.2,"r":0.07},{"p":6.3,"r":0.07},{"p":6.4,"r":0.07},{"p":6.8,"r":0.05},{"p":6.95,"r":0.05},{"p":7.1,"r":0.05},{"p":7.25,"r":0.05},{"p":7.4,"r":0.05},{"p":7.55,"r":0.05},{"p":7.7,"r":0.05},{"p":7.85,"r":0.05},{"p":8.0,"r":0.05},{"p":8.15,"r":0.05},{"p":8.3,"r":0.05},{"p":8.6,"r":0.06},{"p":8.75,"r":0.06},{"p":8.9,"r":0.06},{"p":9.05,"r":0.06},{"p":9.2,"r":0.06},{"p":9.6,"r":0.1},{"p":9.7,"r":0.1},{"p":9.8,"r":0.06},{"p":9.95,"r":0.04},{"p":10.1,"r":0.04},{"p":10.25,"r":0.04},{"p":10.4,"r":0.04},{"p":10.55,"r":0.04},{"p":10.7,"r":0.04},{"p":10.85,"r":0.04},{"p":11.0,"r":0.04},{"p":11.4,"r":0.06},{"p":11.5,"r":0.06},{"p":11.6,"r":0.06},{"p":11.8,"r":0.12},{"p":11.9,"r":0.12},{"p":12.0,"r":0.12}],
"c15":[{"p":0.3,"r":0.15},{"p":0.9,"r":0.12},{"p":1.1,"r":0.1},{"p":1.4,"r":0.1},{"p":1.5,"r":0.1},{"p":1.8,"r":0.05},{"p":1.95,"r":0.05},{"p":2.1,"r":0.05},{"p":2.2,"r":0.05},{"p":2.5,"r":0.07},{"p":2.65,"r":0.07},{"p":2.8,"r":0.07},{"p":2.95,"r":0.07},{"p":3.15,"r":0.07},{"p":3.3,"r":0.07},{"p":3.4,"r":0.07},{"p":3.6,"r":0.06},{"p":3.8,"r":0.06},{"p":3.9,"r":0.15},{"p":4.0,"r":0.18},{"p":4.1,"r":0.2},{"p":4.2,"r":0.25},{"p":4.3,"r":0.3},{"p":4.4,"r":0.38},{"p":4.5,"r":0.45},{"p":5.9,"r":0.38},{"p":6.5,"r":0.38},{"p":6.6,"r":0.38},{"p":6.7,"r":0.38},{"p":6.8,"r":0.38},{"p":7.8,"r":0.35},{"p":8.4,"r":0.8},{"p":8.45,"r":0.8},{"p":8.5,"r":0.8},{"p":9.4,"r":0.75},{"p":10.8,"r":0.7},{"p":10.9,"r":0.72},{"p":11.0,"r":0.75},{"p":11.1,"r":0.8},{"p":11.3,"r":1.05},{"p":11.5,"r":1.2},{"p":11.6,"r":1.3},{"p":11.7,"r":1.38},{"p":11.8,"r":1.42},{"p":11.9,"r":1.45},{"p":12.0,"r":1.5},{"p":12.1,"r":1.5},{"p":12.2,"r":1.48},{"p":12.3,"r":1.42},{"p":12.4,"r":1.38},{"p":12.5,"r":1.35},{"p":12.6,"r":1.32},{"p":12.7,"r":1.3},{"p":12.8,"r":1.28},{"p":12.9,"r":1.26},{"p":13.0,"r":1.25},{"p":13.3,"r":1.25},{"p":13.4,"r":1.25},{"p":13.5,"r":1.25},{"p":13.6,"r":1.25},{"p":13.7,"r":1.26},{"p":13.8,"r":1.27},{"p":13.9,"r":1.27},{"p":14.05,"r":1.2},{"p":14.35,"r":1.2},{"p":14.45,"r":1.18},{"p":14.55,"r":1.16},{"p":14.62,"r":1.15},{"p":14.8,"r":1.05},{"p":14.9,"r":0.7},{"p":15.0,"r":0.55},{"p":15.1,"r":0.45},{"p":15.2,"r":0.38},{"p":15.3,"r":0.32},{"p":15.45,"r":0.3},{"p":15.6,"r":0.28},{"p":15.75,"r":0.28},{"p":15.9,"r":0.27},{"p":16.05,"r":0.2},{"p":16.2,"r":0.15},{"p":16.4,"r":0.12},{"p":16.6,"r":0.11},{"p":16.8,"r":0.1},{"p":17.0,"r":0.1},{"p":17.2,"r":0.09},{"p":17.4,"r":0.09},{"p":17.6,"r":0.08},{"p":17.8,"r":0.08},{"p":18.0,"r":0.08},{"p":18.2,"r":0.07},{"p":18.4,"r":0.07},{"p":18.6,"r":0.07},{"p":18.8,"r":0.06},{"p":19.0,"r":0.06},{"p":19.2,"r":0.06},{"p":19.5,"r":0.06},{"p":19.6,"r":0.06},{"p":19.9,"r":0.06},{"p":20.1,"r":0.08},{"p":20.25,"r":0.08},{"p":20.4,"r":0.08},{"p":20.55,"r":0.08},{"p":20.7,"r":0.08},{"p":20.85,"r":0.08},{"p":21.0,"r":0.08},{"p":21.5,"r":0.06},{"p":21.65,"r":0.06},{"p":21.8,"r":0.06},{"p":21.95,"r":0.06},{"p":22.1,"r":0.06},{"p":22.25,"r":0.06}],
"c16":[{"p":0.1,"r":0.05},{"p":0.3,"r":0.05},{"p":0.7,"r":0.05},{"p":0.85,"r":0.05},{"p":1.2,"r":0.05},{"p":1.35,"r":0.05},{"p":1.7,"r":0.05},{"p":1.9,"r":0.05},{"p":2.1,"r":0.05},{"p":2.3,"r":0.05},{"p":2.5,"r":0.05},{"p":2.7,"r":0.05},{"p":2.9,"r":0.05},{"p":3.6,"r":0.05},{"p":3.8,"r":0.05},{"p":4.0,"r":0.06},{"p":4.2,"r":0.07},{"p":4.4,"r":0.08},{"p":4.6,"r":0.1},{"p":4.8,"r":0.12},{"p":5.0,"r":0.15},{"p":5.15,"r":0.18},{"p":5.3,"r":0.22},{"p":5.45,"r":0.26},{"p":5.6,"r":0.3},{"p":5.75,"r":0.38},{"p":5.9,"r":0.45},{"p":6.05,"r":0.55},{"p":6.2,"r":0.65},{"p":6.35,"r":0.72},{"p":6.5,"r":0.76},{"p":6.65,"r":0.8},{"p":6.8,"r":0.82},{"p":6.95,"r":0.84},{"p":7.1,"r":0.85},{"p":7.25,"r":0.85},{"p":7.4,"r":0.84},{"p":7.55,"r":0.83},{"p":7.7,"r":0.82},{"p":7.85,"r":0.8},{"p":8.0,"r":0.75},{"p":8.15,"r":0.65},{"p":8.3,"r":0.55},{"p":8.45,"r":0.45},{"p":8.6,"r":0.35},{"p":8.75,"r":0.28},{"p":8.9,"r":0.22},{"p":9.05,"r":0.18},{"p":9.2,"r":0.15},{"p":9.4,"r":0.13},{"p":9.6,"r":0.12},{"p":9.8,"r":0.11},{"p":10.0,"r":0.1},{"p":10.2,"r":0.1},{"p":10.4,"r":0.09},{"p":10.6,"r":0.09},{"p":10.8,"r":0.08},{"p":11.0,"r":0.08},{"p":11.2,"r":0.08},{"p":11.4,"r":0.08},{"p":11.8,"r":0.06},{"p":12.0,"r":0.06},{"p":12.2,"r":0.06},{"p":12.4,"r":0.06},{"p":12.6,"r":0.06},{"p":12.8,"r":0.06},{"p":13.0,"r":0.06},{"p":13.2,"r":0.06},{"p":13.4,"r":0.06},{"p":13.6,"r":0.06},{"p":13.8,"r":0.06},{"p":14.2,"r":0.06},{"p":14.4,"r":0.06},{"p":14.6,"r":0.06},{"p":14.8,"r":0.06},{"p":15.0,"r":0.06},{"p":15.2,"r":0.06},{"p":15.5,"r":0.06},{"p":15.7,"r":0.06},{"p":15.9,"r":0.06},{"p":16.1,"r":0.06},{"p":16.3,"r":0.06},{"p":16.8,"r":0.06},{"p":17.0,"r":0.06},{"p":17.2,"r":0.06},{"p":17.4,"r":0.06},{"p":17.6,"r":0.06},{"p":17.8,"r":0.06},{"p":18.3,"r":0.07},{"p":18.5,"r":0.07},{"p":18.7,"r":0.07},{"p":18.9,"r":0.07},{"p":19.1,"r":0.07},{"p":19.3,"r":0.08},{"p":19.5,"r":0.08},{"p":19.7,"r":0.08},{"p":19.9,"r":0.08},{"p":20.1,"r":0.08},{"p":20.3,"r":0.08},{"p":20.8,"r":0.08},{"p":21.0,"r":0.08},{"p":21.2,"r":0.08},{"p":21.4,"r":0.08},{"p":21.6,"r":0.08},{"p":21.8,"r":0.08},{"p":22.0,"r":0.08},{"p":22.2,"r":0.08},{"p":22.4,"r":0.08},{"p":22.6,"r":0.08},{"p":22.8,"r":0.08},{"p":23.0,"r":0.08},{"p":23.2,"r":0.08},{"p":23.4,"r":0.08},{"p":23.6,"r":0.08},{"p":23.8,"r":0.08},{"p":24.2,"r":0.08},{"p":24.4,"r":0.08},{"p":24.6,"r":0.08},{"p":24.8,"r":0.08},{"p":25.0,"r":0.08},{"p":25.2,"r":0.08},{"p":25.4,"r":0.08},{"p":25.6,"r":0.08},{"p":25.8,"r":0.08},{"p":26.0,"r":0.08},{"p":26.2,"r":0.08},{"p":26.4,"r":0.08},{"p":26.6,"r":0.08},{"p":26.8,"r":0.08},{"p":27.0,"r":0.08},{"p":27.2,"r":0.08},{"p":27.6,"r":0.08},{"p":28.3,"r":0.1},{"p":28.45,"r":0.1},{"p":28.6,"r":0.1},{"p":28.75,"r":0.1},{"p":28.9,"r":0.1},{"p":29.05,"r":0.1},{"p":29.5,"r":0.12},{"p":29.65,"r":0.12},{"p":29.8,"r":0.12}],
"c17":[{"p":0.1,"r":0.1},{"p":0.25,"r":0.1},{"p":0.4,"r":0.1},{"p":0.55,"r":0.1},{"p":0.7,"r":0.1},{"p":0.85,"r":0.1},{"p":1.1,"r":0.1},{"p":1.25,"r":0.1},{"p":1.4,"r":0.1},{"p":1.75,"r":0.08},{"p":1.9,"r":0.1},{"p":2.05,"r":0.1},{"p":2.2,"r":0.1},{"p":2.5,"r":0.1},{"p":2.65,"r":0.1},{"p":2.8,"r":0.1},{"p":2.95,"r":0.1},{"p":3.1,"r":0.1},{"p":3.25,"r":0.1},{"p":3.4,"r":0.1},{"p":3.55,"r":0.1},{"p":3.7,"r":0.1},{"p":3.85,"r":0.1},{"p":4.0,"r":0.1},{"p":4.15,"r":0.1},{"p":4.3,"r":0.11},{"p":4.45,"r":0.13},{"p":4.6,"r":0.15},{"p":4.75,"r":0.18},{"p":4.9,"r":0.22},{"p":5.0,"r":0.26},{"p":5.1,"r":0.3},{"p":5.2,"r":0.3},{"p":8.4,"r":0.4},{"p":8.5,"r":0.4},{"p":8.6,"r":0.4},{"p":8.8,"r":0.42},{"p":8.9,"r":0.45},{"p":9.0,"r":0.46},{"p":9.1,"r":0.45},{"p":9.2,"r":0.45},{"p":9.3,"r":0.44},{"p":9.4,"r":0.43},{"p":9.5,"r":0.42},{"p":9.6,"r":0.42},{"p":9.7,"r":0.41},{"p":9.8,"r":0.4},{"p":9.9,"r":0.4},{"p":10.0,"r":0.38},{"p":10.2,"r":0.35},{"p":10.3,"r":0.34},{"p":10.4,"r":0.33},{"p":10.5,"r":0.33},{"p":10.6,"r":0.32},{"p":10.7,"r":0.3},{"p":10.8,"r":0.28},{"p":11.5,"r":0.2},{"p":11.6,"r":0.19},{"p":11.7,"r":0.18},{"p":11.8,"r":0.17},{"p":11.9,"r":0.15},{"p":12.0,"r":0.14},{"p":12.1,"r":0.13},{"p":12.2,"r":0.12},{"p":12.3,"r":0.12},{"p":12.5,"r":0.06},{"p":12.65,"r":0.06},{"p":12.9,"r":0.06},{"p":13.05,"r":0.06},{"p":13.2,"r":0.06},{"p":13.35,"r":0.06},{"p":13.5,"r":0.06},{"p":13.65,"r":0.06},{"p":13.8,"r":0.06},{"p":13.95,"r":0.06},{"p":14.1,"r":0.06},{"p":14.25,"r":0.06},{"p":14.4,"r":0.06},{"p":14.55,"r":0.06},{"p":14.7,"r":0.06},{"p":14.85,"r":0.06},{"p":15.0,"r":0.06},{"p":15.25,"r":0.06},{"p":15.4,"r":0.06},{"p":15.6,"r":0.06},{"p":15.75,"r":0.06},{"p":16.0,"r":0.07},{"p":16.15,"r":0.07},{"p":16.3,"r":0.07},{"p":16.45,"r":0.07},{"p":16.6,"r":0.07},{"p":16.75,"r":0.07},{"p":16.9,"r":0.07},{"p":17.05,"r":0.1},{"p":17.2,"r":0.11},{"p":17.35,"r":0.12},{"p":17.5,"r":0.13},{"p":17.65,"r":0.12},{"p":17.8,"r":0.1}],
"c18":[{"p":0,"r":0.1},{"p":0.15,"r":0.1},{"p":0.3,"r":0.08},{"p":0.45,"r":0.05},{"p":0.6,"r":0.05},{"p":0.75,"r":0.05},{"p":0.9,"r":0.05},{"p":1.05,"r":0.05},{"p":1.2,"r":0.05},{"p":1.6,"r":0.07},{"p":1.75,"r":0.07},{"p":1.9,"r":0.07},{"p":2.05,"r":0.07},{"p":2.2,"r":0.07},{"p":2.35,"r":0.07},{"p":2.5,"r":0.07},{"p":2.65,"r":0.07},{"p":2.8,"r":0.07},{"p":2.95,"r":0.07},{"p":3.1,"r":0.07},{"p":3.25,"r":0.07},{"p":3.4,"r":0.07},{"p":4.2,"r":0.1},{"p":4.32,"r":0.1},{"p":4.44,"r":0.11},{"p":4.56,"r":0.12},{"p":4.68,"r":0.13},{"p":4.8,"r":0.14},{"p":4.9,"r":0.15},{"p":5.2,"r":0.18},{"p":5.3,"r":0.18},{"p":5.4,"r":0.18},{"p":5.5,"r":0.18},{"p":5.6,"r":0.18},{"p":5.7,"r":0.18},{"p":5.8,"r":0.17},{"p":5.9,"r":0.17},{"p":6.0,"r":0.17},{"p":6.1,"r":0.16},{"p":6.2,"r":0.16},{"p":6.3,"r":0.16},{"p":6.4,"r":0.15},{"p":6.5,"r":0.15},{"p":6.6,"r":0.15},{"p":6.75,"r":0.15},{"p":7.0,"r":0.15},{"p":7.1,"r":0.15},{"p":7.2,"r":0.15},{"p":7.3,"r":0.15},{"p":7.45,"r":0.15},{"p":7.6,"r":0.13},{"p":7.7,"r":0.13},{"p":7.8,"r":0.13},{"p":7.9,"r":0.13},{"p":8.0,"r":0.13},{"p":8.1,"r":0.13},{"p":8.2,"r":0.13},{"p":8.3,"r":0.12},{"p":8.4,"r":0.12},{"p":8.5,"r":0.12},{"p":8.6,"r":0.12},{"p":8.7,"r":0.12},{"p":8.8,"r":0.12},{"p":8.9,"r":0.12},{"p":9.0,"r":0.12},{"p":9.1,"r":0.12},{"p":9.2,"r":0.12},{"p":9.35,"r":0.12},{"p":9.6,"r":0.1},{"p":9.8,"r":0.1},{"p":9.95,"r":0.1},{"p":10.1,"r":0.1},{"p":10.3,"r":0.08},{"p":10.45,"r":0.08},{"p":10.6,"r":0.08},{"p":10.75,"r":0.08},{"p":10.9,"r":0.08},{"p":11.05,"r":0.08},{"p":11.2,"r":0.08},{"p":12.0,"r":0.04},{"p":12.15,"r":0.04},{"p":12.3,"r":0.04},{"p":12.45,"r":0.04},{"p":12.6,"r":0.04},{"p":12.8,"r":0.04},{"p":13.0,"r":0.07},{"p":13.15,"r":0.07},{"p":13.3,"r":0.07},{"p":13.45,"r":0.07},{"p":13.6,"r":0.07},{"p":13.75,"r":0.07},{"p":13.9,"r":0.07},{"p":14.05,"r":0.08},{"p":14.2,"r":0.1},{"p":14.3,"r":0.25},{"p":14.4,"r":0.35},{"p":14.5,"r":0.45},{"p":14.6,"r":0.5},{"p":14.7,"r":0.52},{"p":14.8,"r":0.55},{"p":14.9,"r":0.52},{"p":14.97,"r":0.4}],
"c19":[{"p":0,"r":0.1},{"p":2.1,"r":0.08},{"p":2.25,"r":0.08},{"p":2.4,"r":0.08},{"p":2.55,"r":0.08},{"p":2.7,"r":0.08},{"p":3.0,"r":0.12},{"p":3.15,"r":0.13},{"p":3.3,"r":0.14},{"p":3.45,"r":0.15},{"p":3.6,"r":0.15},{"p":3.8,"r":0.25},{"p":3.9,"r":0.26},{"p":4.0,"r":0.27},{"p":4.15,"r":0.4},{"p":4.25,"r":0.45},{"p":4.35,"r":0.5},{"p":4.6,"r":0.88},{"p":4.7,"r":0.88},{"p":4.8,"r":0.87},{"p":4.9,"r":0.86},{"p":5.0,"r":0.85},{"p":5.1,"r":0.85},{"p":5.2,"r":0.84},{"p":5.3,"r":0.84},{"p":5.4,"r":0.83},{"p":5.5,"r":0.83},{"p":5.6,"r":0.82},{"p":5.7,"r":0.82},{"p":5.8,"r":0.82},{"p":5.9,"r":0.81},{"p":6.0,"r":0.81},{"p":6.1,"r":0.8},{"p":6.2,"r":0.8},{"p":6.3,"r":0.8},{"p":7.5,"r":0.7},{"p":7.6,"r":0.6},{"p":7.7,"r":0.3},{"p":7.9,"r":0.15},{"p":8.0,"r":0.15},{"p":8.1,"r":0.15},{"p":8.2,"r":0.15},{"p":8.3,"r":0.15},{"p":8.4,"r":0.14},{"p":8.5,"r":0.14},{"p":8.6,"r":0.13},{"p":8.7,"r":0.12},{"p":8.8,"r":0.1},{"p":8.9,"r":0.1},{"p":9.0,"r":0.1},{"p":9.1,"r":0.1},{"p":9.2,"r":0.1},{"p":9.3,"r":0.1},{"p":9.4,"r":0.1},{"p":9.7,"r":0.08},{"p":9.8,"r":0.08},{"p":11.7,"r":0.07},{"p":11.8,"r":0.07},{"p":11.9,"r":0.07},{"p":12.0,"r":0.07},{"p":12.1,"r":0.07},{"p":12.25,"r":0.07},{"p":12.4,"r":0.07},{"p":12.55,"r":0.07},{"p":12.8,"r":0.06},{"p":12.95,"r":0.06},{"p":13.1,"r":0.06},{"p":13.25,"r":0.08},{"p":13.35,"r":0.08},{"p":13.45,"r":0.08},{"p":13.55,"r":0.06}]
},
"spacing":34,
"hconcat":[
{"spacing":14,"vconcat":[
{"width":574,"height":90,"title":"chr01","layer":[
{"data":{"values":[{"c":10.05}]},"mark":{"type":"rule","color":"#F3C4BC","strokeWidth":0.8},"encoding":{"x":{"field":"c","type":"quantitative"}}},
{"data":{"name":"c01"},"mark":{"type":"rule","color":"#262626","strokeWidth":1.1,"strokeCap":"square"},"encoding":{"x":{"field":"p","type":"quantitative","scale":{"domain":[-0.92,21.05],"nice":false,"zero":false},"axis":{"title":"Physical position (Mb)","values":[0,2.5,5,7.5,10,12.5,15,17.5,20],"format":"d","labelExpr":"datum.value % 5 === 0 ? datum.label : ''","tickOpacity":{"condition":{"test":"datum.value % 5 === 0","value":1},"value":0},"gridWidth":{"condition":{"test":"datum.value % 5 === 0","value":1},"value":0.5}}},"y":{"field":"r","type":"quantitative","scale":{"domain":[-0.25,5.25],"nice":false},"axis":{"title":"Mb/cM","tickCount":11,"values":[0,0.5,1,1.5,2,2.5,3,3.5,4,4.5,5],"format":"d","labelExpr":"datum.value % 1 === 0 ? datum.label : ''","tickOpacity":{"condition":{"test":"datum.value % 1 === 0","value":1},"value":0},"gridWidth":{"condition":{"test":"datum.value % 1 === 0","value":1},"value":0.5}}},"y2":{"datum":0}}}]},
{"width":574,"height":90,"title":"chr03","layer":[
{"data":{"values":[{"c":7.08}]},"mark":{"type":"rule","color":"#F3C4BC","strokeWidth":0.8},"encoding":{"x":{"field":"c","type":"quantitative"}}},
{"data":{"name":"c03"},"mark":{"type":"rule","color":"#262626","strokeWidth":1.1,"strokeCap":"square"},"encoding":{"x":{"field":"p","type":"quantitative","scale":{"domain":[-0.77,17.85],"nice":false,"zero":false},"axis":{"title":"Physical position (Mb)","values":[0,2.5,5,7.5,10,12.5,15,17.5],"format":"d","labelExpr":"datum.value % 5 === 0 ? datum.label : ''","tickOpacity":{"condition":{"test":"datum.value % 5 === 0","value":1},"value":0},"gridWidth":{"condition":{"test":"datum.value % 5 === 0","value":1},"value":0.5}}},"y":{"field":"r","type":"quantitative","scale":{"domain":[-0.25,5.25],"nice":false},"axis":{"title":"Mb/cM","tickCount":11,"values":[0,0.5,1,1.5,2,2.5,3,3.5,4,4.5,5],"format":"d","labelExpr":"datum.value % 1 === 0 ? datum.label : ''","tickOpacity":{"condition":{"test":"datum.value % 1 === 0","value":1},"value":0},"gridWidth":{"condition":{"test":"datum.value % 1 === 0","value":1},"value":0.5}}},"y2":{"datum":0}}}]},
{"width":574,"height":90,"title":"chr05","layer":[
{"data":{"name":"c05"},"mark":{"type":"rule","color":"#262626","strokeWidth":1.1,"strokeCap":"square"},"encoding":{"x":{"field":"p","type":"quantitative","scale":{"domain":[-1.04,24.23],"nice":false,"zero":false},"axis":{"title":"Physical position (Mb)","values":[0,2.5,5,7.5,10,12.5,15,17.5,20,22.5],"format":"d","labelExpr":"datum.value % 5 === 0 ? datum.label : ''","tickOpacity":{"condition":{"test":"datum.value % 5 === 0","value":1},"value":0},"gridWidth":{"condition":{"test":"datum.value % 5 === 0","value":1},"value":0.5}}},"y":{"field":"r","type":"quantitative","scale":{"domain":[-0.25,5.25],"nice":false},"axis":{"title":"Mb/cM","tickCount":11,"values":[0,0.5,1,1.5,2,2.5,3,3.5,4,4.5,5],"format":"d","labelExpr":"datum.value % 1 === 0 ? datum.label : ''","tickOpacity":{"condition":{"test":"datum.value % 1 === 0","value":1},"value":0},"gridWidth":{"condition":{"test":"datum.value % 1 === 0","value":1},"value":0.5}}},"y2":{"datum":0}}}]},
{"width":574,"height":90,"title":"chr07","layer":[
{"data":{"name":"c07"},"mark":{"type":"rule","color":"#262626","strokeWidth":1.1,"strokeCap":"square"},"encoding":{"x":{"field":"p","type":"quantitative","scale":{"domain":[-0.77,17.85],"nice":false,"zero":false},"axis":{"title":"Physical position (Mb)","values":[0,2.5,5,7.5,10,12.5,15,17.5],"format":"d","labelExpr":"datum.value % 5 === 0 ? datum.label : ''","tickOpacity":{"condition":{"test":"datum.value % 5 === 0","value":1},"value":0},"gridWidth":{"condition":{"test":"datum.value % 5 === 0","value":1},"value":0.5}}},"y":{"field":"r","type":"quantitative","scale":{"domain":[-0.25,5.25],"nice":false},"axis":{"title":"Mb/cM","tickCount":11,"values":[0,0.5,1,1.5,2,2.5,3,3.5,4,4.5,5],"format":"d","labelExpr":"datum.value % 1 === 0 ? datum.label : ''","tickOpacity":{"condition":{"test":"datum.value % 1 === 0","value":1},"value":0},"gridWidth":{"condition":{"test":"datum.value % 1 === 0","value":1},"value":0.5}}},"y2":{"datum":0}}}]},
{"width":574,"height":90,"title":"chr09","layer":[
{"data":{"name":"c09"},"mark":{"type":"rule","color":"#262626","strokeWidth":1.1,"strokeCap":"square"},"encoding":{"x":{"field":"p","type":"quantitative","scale":{"domain":[-0.59,13.71],"nice":false,"zero":false},"axis":{"title":"Physical position (Mb)","values":[0,2.5,5,7.5,10,12.5],"format":"d","labelExpr":"datum.value % 5 === 0 ? datum.label : ''","tickOpacity":{"condition":{"test":"datum.value % 5 === 0","value":1},"value":0},"gridWidth":{"condition":{"test":"datum.value % 5 === 0","value":1},"value":0.5}}},"y":{"field":"r","type":"quantitative","scale":{"domain":[-0.25,5.25],"nice":false},"axis":{"title":"Mb/cM","tickCount":11,"values":[0,0.5,1,1.5,2,2.5,3,3.5,4,4.5,5],"format":"d","labelExpr":"datum.value % 1 === 0 ? datum.label : ''","tickOpacity":{"condition":{"test":"datum.value % 1 === 0","value":1},"value":0},"gridWidth":{"condition":{"test":"datum.value % 1 === 0","value":1},"value":0.5}}},"y2":{"datum":0}}}]},
{"width":574,"height":90,"title":"chr11","layer":[
{"data":{"name":"c11"},"mark":{"type":"rule","color":"#262626","strokeWidth":1.1,"strokeCap":"square"},"encoding":{"x":{"field":"p","type":"quantitative","scale":{"domain":[-0.77,17.85],"nice":false,"zero":false},"axis":{"title":"Physical position (Mb)","values":[0,2.5,5,7.5,10,12.5,15,17.5],"format":"d","labelExpr":"datum.value % 5 === 0 ? datum.label : ''","tickOpacity":{"condition":{"test":"datum.value % 5 === 0","value":1},"value":0},"gridWidth":{"condition":{"test":"datum.value % 5 === 0","value":1},"value":0.5}}},"y":{"field":"r","type":"quantitative","scale":{"domain":[-0.25,5.25],"nice":false},"axis":{"title":"Mb/cM","tickCount":11,"values":[0,0.5,1,1.5,2,2.5,3,3.5,4,4.5,5],"format":"d","labelExpr":"datum.value % 1 === 0 ? datum.label : ''","tickOpacity":{"condition":{"test":"datum.value % 1 === 0","value":1},"value":0},"gridWidth":{"condition":{"test":"datum.value % 1 === 0","value":1},"value":0.5}}},"y2":{"datum":0}}}]},
{"width":574,"height":90,"title":"chr13","layer":[
{"data":{"name":"c13"},"mark":{"type":"rule","color":"#262626","strokeWidth":1.1,"strokeCap":"square"},"encoding":{"x":{"field":"p","type":"quantitative","scale":{"domain":[-0.95,22.1],"nice":false,"zero":false},"axis":{"title":"Physical position (Mb)","values":[0,2.5,5,7.5,10,12.5,15,17.5,20],"format":"d","labelExpr":"datum.value % 5 === 0 ? datum.label : ''","tickOpacity":{"condition":{"test":"datum.value % 5 === 0","value":1},"value":0},"gridWidth":{"condition":{"test":"datum.value % 5 === 0","value":1},"value":0.5}}},"y":{"field":"r","type":"quantitative","scale":{"domain":[-0.25,5.25],"nice":false},"axis":{"title":"Mb/cM","tickCount":11,"values":[0,0.5,1,1.5,2,2.5,3,3.5,4,4.5,5],"format":"d","labelExpr":"datum.value % 1 === 0 ? datum.label : ''","tickOpacity":{"condition":{"test":"datum.value % 1 === 0","value":1},"value":0},"gridWidth":{"condition":{"test":"datum.value % 1 === 0","value":1},"value":0.5}}},"y2":{"datum":0}}}]},
{"width":574,"height":90,"title":"chr15","layer":[
{"data":{"values":[{"s":10.31,"e":14.62}]},"mark":{"type":"rect","color":"#E9A194"},"encoding":{"x":{"field":"s","type":"quantitative"},"x2":{"field":"e"}}},
{"data":{"values":[{"c":1.98}]},"mark":{"type":"rule","color":"#F3C4BC","strokeWidth":0.8},"encoding":{"x":{"field":"c","type":"quantitative"}}},
{"data":{"name":"c15"},"mark":{"type":"rule","color":"#262626","strokeWidth":1.1,"strokeCap":"square"},"encoding":{"x":{"field":"p","type":"quantitative","scale":{"domain":[-1.04,24.17],"nice":false,"zero":false},"axis":{"title":"Physical position (Mb)","values":[0,2.5,5,7.5,10,12.5,15,17.5,20,22.5],"format":"d","labelExpr":"datum.value % 5 === 0 ? datum.label : ''","tickOpacity":{"condition":{"test":"datum.value % 5 === 0","value":1},"value":0},"gridWidth":{"condition":{"test":"datum.value % 5 === 0","value":1},"value":0.5}}},"y":{"field":"r","type":"quantitative","scale":{"domain":[-0.25,5.25],"nice":false},"axis":{"title":"Mb/cM","tickCount":11,"values":[0,0.5,1,1.5,2,2.5,3,3.5,4,4.5,5],"format":"d","labelExpr":"datum.value % 1 === 0 ? datum.label : ''","tickOpacity":{"condition":{"test":"datum.value % 1 === 0","value":1},"value":0},"gridWidth":{"condition":{"test":"datum.value % 1 === 0","value":1},"value":0.5}}},"y2":{"datum":0}}}]},
{"width":574,"height":90,"title":"chr17","layer":[
{"data":{"name":"c17"},"mark":{"type":"rule","color":"#262626","strokeWidth":1.1,"strokeCap":"square"},"encoding":{"x":{"field":"p","type":"quantitative","scale":{"domain":[-0.81,18.89],"nice":false,"zero":false},"axis":{"title":"Physical position (Mb)","values":[0,2.5,5,7.5,10,12.5,15,17.5],"format":"d","labelExpr":"datum.value % 5 === 0 ? datum.label : ''","tickOpacity":{"condition":{"test":"datum.value % 5 === 0","value":1},"value":0},"gridWidth":{"condition":{"test":"datum.value % 5 === 0","value":1},"value":0.5}}},"y":{"field":"r","type":"quantitative","scale":{"domain":[-0.25,5.25],"nice":false},"axis":{"title":"Mb/cM","tickCount":11,"values":[0,0.5,1,1.5,2,2.5,3,3.5,4,4.5,5],"format":"d","labelExpr":"datum.value % 1 === 0 ? datum.label : ''","tickOpacity":{"condition":{"test":"datum.value % 1 === 0","value":1},"value":0},"gridWidth":{"condition":{"test":"datum.value % 1 === 0","value":1},"value":0.5}}},"y2":{"datum":0}}}]},
{"width":574,"height":90,"title":"chr19","layer":[
{"data":{"values":[{"c":0}]},"mark":{"type":"rule","color":"#F3C4BC","strokeWidth":0.8},"encoding":{"x":{"field":"c","type":"quantitative"}}},
{"data":{"name":"c19"},"mark":{"type":"rule","color":"#262626","strokeWidth":1.1,"strokeCap":"square"},"encoding":{"x":{"field":"p","type":"quantitative","scale":{"domain":[-0.69,16.87],"nice":false,"zero":false},"axis":{"title":"Physical position (Mb)","values":[0,2.5,5,7.5,10,12.5,15],"format":"d","labelExpr":"datum.value % 5 === 0 ? datum.label : ''","tickOpacity":{"condition":{"test":"datum.value % 5 === 0","value":1},"value":0},"gridWidth":{"condition":{"test":"datum.value % 5 === 0","value":1},"value":0.5}}},"y":{"field":"r","type":"quantitative","scale":{"domain":[-0.25,5.25],"nice":false},"axis":{"title":"Mb/cM","tickCount":11,"values":[0,0.5,1,1.5,2,2.5,3,3.5,4,4.5,5],"format":"d","labelExpr":"datum.value % 1 === 0 ? datum.label : ''","tickOpacity":{"condition":{"test":"datum.value % 1 === 0","value":1},"value":0},"gridWidth":{"condition":{"test":"datum.value % 1 === 0","value":1},"value":0.5}}},"y2":{"datum":0}}}]}
]},
{"spacing":14,"vconcat":[
{"width":574,"height":90,"title":"chr02","layer":[
{"data":{"values":[{"c":2.79}]},"mark":{"type":"rule","color":"#F3C4BC","strokeWidth":0.8},"encoding":{"x":{"field":"c","type":"quantitative"}}},
{"data":{"name":"c02"},"mark":{"type":"rule","color":"#262626","strokeWidth":1.1,"strokeCap":"square"},"encoding":{"x":{"field":"p","type":"quantitative","scale":{"domain":[-1.28,25.05],"nice":false,"zero":false},"axis":{"title":"Physical position (Mb)","values":[0,2.5,5,7.5,10,12.5,15,17.5,20,22.5,25],"format":"d","labelExpr":"datum.value % 5 === 0 ? datum.label : ''","tickOpacity":{"condition":{"test":"datum.value % 5 === 0","value":1},"value":0},"gridWidth":{"condition":{"test":"datum.value % 5 === 0","value":1},"value":0.5}}},"y":{"field":"r","type":"quantitative","scale":{"domain":[-0.25,5.25],"nice":false},"axis":{"title":"Mb/cM","tickCount":11,"values":[0,0.5,1,1.5,2,2.5,3,3.5,4,4.5,5],"format":"d","labelExpr":"datum.value % 1 === 0 ? datum.label : ''","tickOpacity":{"condition":{"test":"datum.value % 1 === 0","value":1},"value":0},"gridWidth":{"condition":{"test":"datum.value % 1 === 0","value":1},"value":0.5}}},"y2":{"datum":0}}}]},
{"width":574,"height":90,"title":"chr04","layer":[
{"data":{"name":"c04"},"mark":{"type":"rule","color":"#262626","strokeWidth":1.1,"strokeCap":"square"},"encoding":{"x":{"field":"p","type":"quantitative","scale":{"domain":[-1.01,19.84],"nice":false,"zero":false},"axis":{"title":"Physical position (Mb)","values":[0,2.5,5,7.5,10,12.5,15,17.5],"format":"d","labelExpr":"datum.value % 5 === 0 ? datum.label : ''","tickOpacity":{"condition":{"test":"datum.value % 5 === 0","value":1},"value":0},"gridWidth":{"condition":{"test":"datum.value % 5 === 0","value":1},"value":0.5}}},"y":{"field":"r","type":"quantitative","scale":{"domain":[-0.25,5.25],"nice":false},"axis":{"title":"Mb/cM","tickCount":11,"values":[0,0.5,1,1.5,2,2.5,3,3.5,4,4.5,5],"format":"d","labelExpr":"datum.value % 1 === 0 ? datum.label : ''","tickOpacity":{"condition":{"test":"datum.value % 1 === 0","value":1},"value":0},"gridWidth":{"condition":{"test":"datum.value % 1 === 0","value":1},"value":0.5}}},"y2":{"datum":0}}}]},
{"width":574,"height":90,"title":"chr06","layer":[
{"data":{"name":"c06"},"mark":{"type":"rule","color":"#262626","strokeWidth":1.1,"strokeCap":"square"},"encoding":{"x":{"field":"p","type":"quantitative","scale":{"domain":[-1.39,27.19],"nice":false,"zero":false},"axis":{"title":"Physical position (Mb)","values":[0,5,10,15,20,25],"format":"d","labelExpr":"datum.value % 10 === 0 ? datum.label : ''","tickOpacity":{"condition":{"test":"datum.value % 10 === 0","value":1},"value":0},"gridWidth":{"condition":{"test":"datum.value % 10 === 0","value":1},"value":0.5}}},"y":{"field":"r","type":"quantitative","scale":{"domain":[-0.25,5.25],"nice":false},"axis":{"title":"Mb/cM","tickCount":11,"values":[0,0.5,1,1.5,2,2.5,3,3.5,4,4.5,5],"format":"d","labelExpr":"datum.value % 1 === 0 ? datum.label : ''","tickOpacity":{"condition":{"test":"datum.value % 1 === 0","value":1},"value":0},"gridWidth":{"condition":{"test":"datum.value % 1 === 0","value":1},"value":0.5}}},"y2":{"datum":0}}}]},
{"width":574,"height":90,"title":"chr08","layer":[
{"data":{"name":"c08"},"mark":{"type":"rule","color":"#262626","strokeWidth":1.1,"strokeCap":"square"},"encoding":{"x":{"field":"p","type":"quantitative","scale":{"domain":[-0.85,16.68],"nice":false,"zero":false},"axis":{"title":"Physical position (Mb)","values":[0,2.5,5,7.5,10,12.5,15],"format":"d","labelExpr":"datum.value % 5 === 0 ? datum.label : ''","tickOpacity":{"condition":{"test":"datum.value % 5 === 0","value":1},"value":0},"gridWidth":{"condition":{"test":"datum.value % 5 === 0","value":1},"value":0.5}}},"y":{"field":"r","type":"quantitative","scale":{"domain":[-0.25,5.25],"nice":false},"axis":{"title":"Mb/cM","tickCount":11,"values":[0,0.5,1,1.5,2,2.5,3,3.5,4,4.5,5],"format":"d","labelExpr":"datum.value % 1 === 0 ? datum.label : ''","tickOpacity":{"condition":{"test":"datum.value % 1 === 0","value":1},"value":0},"gridWidth":{"condition":{"test":"datum.value % 1 === 0","value":1},"value":0.5}}},"y2":{"datum":0}}}]},
{"width":574,"height":90,"title":"chr10","layer":[
{"data":{"name":"c10"},"mark":{"type":"rule","color":"#262626","strokeWidth":1.1,"strokeCap":"square"},"encoding":{"x":{"field":"p","type":"quantitative","scale":{"domain":[-1.01,19.86],"nice":false,"zero":false},"axis":{"title":"Physical position (Mb)","values":[0,2.5,5,7.5,10,12.5,15,17.5],"format":"d","labelExpr":"datum.value % 5 === 0 ? datum.label : ''","tickOpacity":{"condition":{"test":"datum.value % 5 === 0","value":1},"value":0},"gridWidth":{"condition":{"test":"datum.value % 5 === 0","value":1},"value":0.5}}},"y":{"field":"r","type":"quantitative","scale":{"domain":[-0.25,5.25],"nice":false},"axis":{"title":"Mb/cM","tickCount":11,"values":[0,0.5,1,1.5,2,2.5,3,3.5,4,4.5,5],"format":"d","labelExpr":"datum.value % 1 === 0 ? datum.label : ''","tickOpacity":{"condition":{"test":"datum.value % 1 === 0","value":1},"value":0},"gridWidth":{"condition":{"test":"datum.value % 1 === 0","value":1},"value":0.5}}},"y2":{"datum":0}}}]},
{"width":574,"height":90,"title":"chr12","layer":[
{"data":{"name":"c12"},"mark":{"type":"rule","color":"#262626","strokeWidth":1.1,"strokeCap":"square"},"encoding":{"x":{"field":"p","type":"quantitative","scale":{"domain":[-0.69,13.59],"nice":false,"zero":false},"axis":{"title":"Physical position (Mb)","values":[0,2.5,5,7.5,10,12.5],"format":"d","labelExpr":"datum.value % 5 === 0 ? datum.label : ''","tickOpacity":{"condition":{"test":"datum.value % 5 === 0","value":1},"value":0},"gridWidth":{"condition":{"test":"datum.value % 5 === 0","value":1},"value":0.5}}},"y":{"field":"r","type":"quantitative","scale":{"domain":[-0.25,5.25],"nice":false},"axis":{"title":"Mb/cM","tickCount":11,"values":[0,0.5,1,1.5,2,2.5,3,3.5,4,4.5,5],"format":"d","labelExpr":"datum.value % 1 === 0 ? datum.label : ''","tickOpacity":{"condition":{"test":"datum.value % 1 === 0","value":1},"value":0},"gridWidth":{"condition":{"test":"datum.value % 1 === 0","value":1},"value":0.5}}},"y2":{"datum":0}}}]},
{"width":574,"height":90,"title":"chr14","layer":[
{"data":{"name":"c14"},"mark":{"type":"rule","color":"#262626","strokeWidth":1.1,"strokeCap":"square"},"encoding":{"x":{"field":"p","type":"quantitative","scale":{"domain":[-0.57,12.55],"nice":false,"zero":false},"axis":{"title":"Physical position (Mb)","values":[0,1.25,2.5,3.75,5,6.25,7.5,8.75,10,11.25,12.5],"format":".1f","labelExpr":"datum.value % 2.5 === 0 ? datum.label : ''","tickOpacity":{"condition":{"test":"datum.value % 2.5 === 0","value":1},"value":0},"gridWidth":{"condition":{"test":"datum.value % 2.5 === 0","value":1},"value":0.5}}},"y":{"field":"r","type":"quantitative","scale":{"domain":[-0.25,5.25],"nice":false},"axis":{"title":"Mb/cM","tickCount":11,"values":[0,0.5,1,1.5,2,2.5,3,3.5,4,4.5,5],"format":"d","labelExpr":"datum.value % 1 === 0 ? datum.label : ''","tickOpacity":{"condition":{"test":"datum.value % 1 === 0","value":1},"value":0},"gridWidth":{"condition":{"test":"datum.value % 1 === 0","value":1},"value":0.5}}},"y2":{"datum":0}}}]},
{"width":574,"height":90,"title":"chr16","layer":[
{"data":{"name":"c16"},"mark":{"type":"rule","color":"#262626","strokeWidth":1.1,"strokeCap":"square"},"encoding":{"x":{"field":"p","type":"quantitative","scale":{"domain":[-1.55,31.4],"nice":false,"zero":false},"axis":{"title":"Physical position (Mb)","values":[0,5,10,15,20,25,30],"format":"d","labelExpr":"datum.value % 10 === 0 ? datum.label : ''","tickOpacity":{"condition":{"test":"datum.value % 10 === 0","value":1},"value":0},"gridWidth":{"condition":{"test":"datum.value % 10 === 0","value":1},"value":0.5}}},"y":{"field":"r","type":"quantitative","scale":{"domain":[-0.25,5.25],"nice":false},"axis":{"title":"Mb/cM","tickCount":11,"values":[0,0.5,1,1.5,2,2.5,3,3.5,4,4.5,5],"format":"d","labelExpr":"datum.value % 1 === 0 ? datum.label : ''","tickOpacity":{"condition":{"test":"datum.value % 1 === 0","value":1},"value":0},"gridWidth":{"condition":{"test":"datum.value % 1 === 0","value":1},"value":0.5}}},"y2":{"datum":0}}}]},
{"width":574,"height":90,"title":"chr18","layer":[
{"data":{"name":"c18"},"mark":{"type":"rule","color":"#262626","strokeWidth":1.1,"strokeCap":"square"},"encoding":{"x":{"field":"p","type":"quantitative","scale":{"domain":[-0.78,15.7],"nice":false,"zero":false},"axis":{"title":"Physical position (Mb)","values":[0,2.5,5,7.5,10,12.5,15],"format":"d","labelExpr":"datum.value % 5 === 0 ? datum.label : ''","tickOpacity":{"condition":{"test":"datum.value % 5 === 0","value":1},"value":0},"gridWidth":{"condition":{"test":"datum.value % 5 === 0","value":1},"value":0.5}}},"y":{"field":"r","type":"quantitative","scale":{"domain":[-0.25,5.25],"nice":false},"axis":{"title":"Mb/cM","tickCount":11,"values":[0,0.5,1,1.5,2,2.5,3,3.5,4,4.5,5],"format":"d","labelExpr":"datum.value % 1 === 0 ? datum.label : ''","tickOpacity":{"condition":{"test":"datum.value % 1 === 0","value":1},"value":0},"gridWidth":{"condition":{"test":"datum.value % 1 === 0","value":1},"value":0.5}}},"y2":{"datum":0}}}]}
]}
]
}
